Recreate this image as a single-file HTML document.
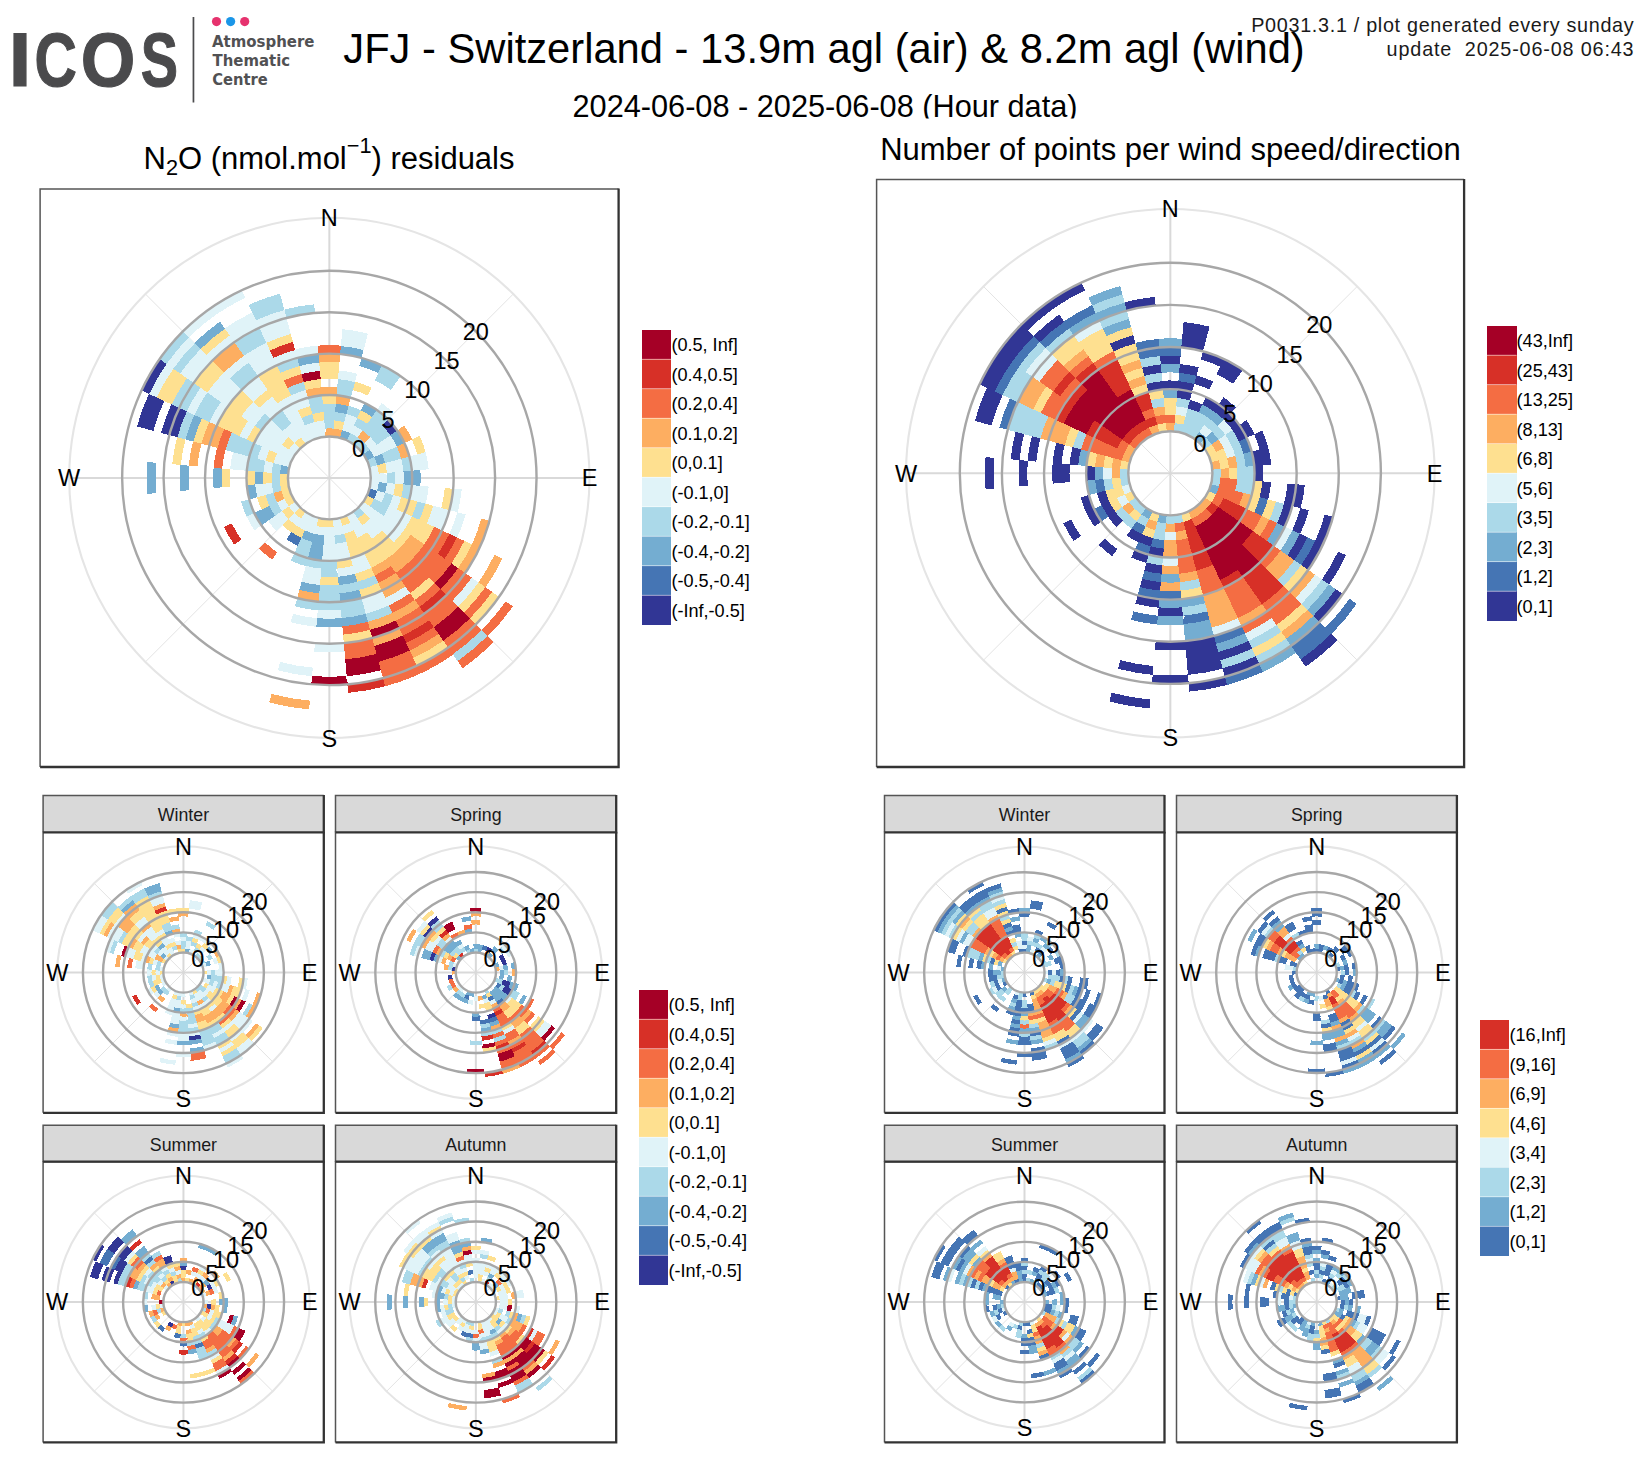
<!DOCTYPE html><html><head><meta charset="utf-8"><title>JFJ N2O residuals</title>
<style>html,body{margin:0;padding:0;background:#fff}svg{display:block}text{font-family:'Liberation Sans', Arial, Helvetica, sans-serif}.p0{stroke:#313695}.p1{stroke:#4575B4}.p2{stroke:#74ADD1}.p3{stroke:#ABD9E9}.p4{stroke:#E0F3F8}.p5{stroke:#FEE090}.p6{stroke:#FDAE61}.p7{stroke:#F46D43}.p8{stroke:#D73027}.p9{stroke:#A50026}.q0{stroke:#4575B4}.q1{stroke:#74ADD1}.q2{stroke:#ABD9E9}.q3{stroke:#E0F3F8}.q4{stroke:#FEE090}.q5{stroke:#FDAE61}.q6{stroke:#F46D43}.q7{stroke:#D73027}</style></head><body>
<svg width="1650" height="1470" viewBox="0 0 1650 1470">
<rect width="1650" height="1470" fill="#fff"/>
<text y="86" font-size="75.5" font-weight="bold" fill="#4a4a4c" stroke="#4a4a4c" stroke-width="1.1"><tspan x="8.6" textLength="23" lengthAdjust="spacingAndGlyphs">I</tspan><tspan x="34.4" textLength="42.4" lengthAdjust="spacingAndGlyphs">C</tspan><tspan x="80.8" textLength="54.6" lengthAdjust="spacingAndGlyphs">O</tspan><tspan x="140.7" textLength="37.3" lengthAdjust="spacingAndGlyphs">S</tspan></text>
<rect x="192.6" y="17" width="1.7" height="85.5" fill="#4b4b4d"/>
<circle cx="216.5" cy="21.6" r="4.6" fill="#e6326e"/><circle cx="230.6" cy="21.6" r="4.6" fill="#1a96e8"/><circle cx="244.7" cy="21.6" r="4.6" fill="#e6326e"/>
<g font-size="16.2" font-weight="bold" fill="#515153">
<text style="font-family:'DejaVu Sans','Liberation Sans',sans-serif" x="212" y="46.8" textLength="102.5" lengthAdjust="spacingAndGlyphs">Atmosphere</text><text style="font-family:'DejaVu Sans','Liberation Sans',sans-serif" x="212.6" y="65.8" textLength="77.5" lengthAdjust="spacingAndGlyphs">Thematic</text><text style="font-family:'DejaVu Sans','Liberation Sans',sans-serif" x="212.2" y="84.6" textLength="55.5" lengthAdjust="spacingAndGlyphs">Centre</text></g>
<text x="824" y="63" font-size="41.7" text-anchor="middle">JFJ - Switzerland - 13.9m agl (air) &amp; 8.2m agl (wind)</text>
<svg x="0" y="0" width="1650" height="118.5" overflow="hidden"><text x="825" y="116.5" font-size="30.7" text-anchor="middle">2024-06-08 - 2025-06-08 (Hour data)</text></svg>
<text x="1251.2" y="31.8" font-size="19.8" fill="#1a1a1a" textLength="382.5" lengthAdjust="spacing">P0031.3.1 / plot generated every sunday</text>
<text x="1386.6" y="55.9" font-size="19.8" fill="#1a1a1a" textLength="247" lengthAdjust="spacing" xml:space="preserve">update  2025-06-08 06:43</text>
<text x="329" y="168.5" font-size="31" text-anchor="middle">N<tspan font-size="21.7" dy="6.5">2</tspan><tspan dy="-6.5">O (nmol.mol</tspan><tspan font-size="21.7" dy="-16">−1</tspan><tspan dy="16">) residuals</tspan></text>
<text x="1170.5" y="160" font-size="31" text-anchor="middle">Number of points per wind speed/direction</text>
<g>
<g fill="none">
<path stroke="#e3e3e3" stroke-width="1.0" d="M145.4 294L513.3 661.9M145.4 661.9L513.3 294"/>
<path stroke="#d9d9d9" stroke-width="2.0" d="M69.2 477.95L589.5 477.95M329.35 217.8L329.35 738.1"/>
<circle cx="329.35" cy="477.95" r="260.15" stroke="#e5e5e5" stroke-width="2.1"/>
</g>
<g transform="translate(329.35 477.95) rotate(-95)" fill="none" stroke-width="8.69" shape-rendering="crispEdges">
<circle r="45.58" pathLength="36" class="p1" stroke-dasharray="0 11 1 24"/>
<circle r="45.58" pathLength="36" class="p2" stroke-dasharray="0 2 1 3 1 21 1 7"/>
<circle r="45.58" pathLength="36" class="p3" stroke-dasharray="0 3 3 1 1 6 1 21"/>
<circle r="45.58" pathLength="36" class="p4" stroke-dasharray="0 8 3 2 1 1 1 1 1 2 2 1 1 5 3 1 3 0"/>
<circle r="45.58" pathLength="36" class="p5" stroke-dasharray="0 12 1 3 1 1 2 2 1 1 4 4 1 3"/>
<circle r="45.58" pathLength="36" class="p6" stroke-dasharray="2 34"/>
<circle r="53.87" pathLength="36" class="p2" stroke-dasharray="0 7 1 2 1 25"/>
<circle r="53.87" pathLength="36" class="p3" stroke-dasharray="1 11 1 13 3 7"/>
<circle r="53.87" pathLength="36" class="p4" stroke-dasharray="0 2 2 1 2 2 1 1 1 1 1 1 8 1 1 4 2 1 4 0"/>
<circle r="53.87" pathLength="36" class="p5" stroke-dasharray="0 1 1 6 1 5 1 8 1 7 1 4"/>
<circle r="53.87" pathLength="36" class="p6" stroke-dasharray="0 4 1 20 1 10"/>
<circle r="62.16" pathLength="36" class="p2" stroke-dasharray="0 19 2 15"/>
<circle r="62.16" pathLength="36" class="p3" stroke-dasharray="2 1 3 1 1 1 1 1 2 4 1 6 2 8 1 1"/>
<circle r="62.16" pathLength="36" class="p4" stroke-dasharray="0 2 1 3 1 1 1 1 1 2 3 2 1 4 1 2 1 1 1 1 4 2"/>
<circle r="62.16" pathLength="36" class="p5" stroke-dasharray="0 16 1 4 2 4 1 1 1 5 1 0"/>
<circle r="70.45" pathLength="36" class="p1" stroke-dasharray="0 21 1 14"/>
<circle r="70.45" pathLength="36" class="p2" stroke-dasharray="0 1 1 17 1 4 1 2 1 8"/>
<circle r="70.45" pathLength="36" class="p3" stroke-dasharray="1 1 1 1 2 1 1 12 1 7 1 3 1 2 1 0"/>
<circle r="70.45" pathLength="36" class="p4" stroke-dasharray="0 6 1 1 2 1 4 2 2 4 1 2 1 2 3 1 1 2"/>
<circle r="70.45" pathLength="36" class="p5" stroke-dasharray="0 3 1 6 1 4 2 8 1 8 1 1"/>
<circle r="78.74" pathLength="36" class="p0" stroke-dasharray="0 5 1 30"/>
<circle r="78.74" pathLength="36" class="p2" stroke-dasharray="0 3 1 2 1 2 1 9 1 4 1 1 1 9"/>
<circle r="78.74" pathLength="36" class="p3" stroke-dasharray="0 4 1 3 1 1 1 9 1 7 2 2 1 2 1 0"/>
<circle r="78.74" pathLength="36" class="p4" stroke-dasharray="0 12 2 3 2 11 2 1 2 1"/>
<circle r="78.74" pathLength="36" class="p5" stroke-dasharray="1 10 1 2 3 10 1 8"/>
<circle r="78.74" pathLength="36" class="p6" stroke-dasharray="0 1 1 5 1 28"/>
<circle r="87.03" pathLength="36" class="p2" stroke-dasharray="0 9 1 26"/>
<circle r="87.03" pathLength="36" class="p3" stroke-dasharray="0 1 1 16 3 4 1 3 1 1 1 4"/>
<circle r="87.03" pathLength="36" class="p4" stroke-dasharray="0 4 1 3 1 1 1 1 2 2 1 7 1 3 1 3 3 1"/>
<circle r="87.03" pathLength="36" class="p5" stroke-dasharray="0 11 1 2 2 1 1 12 1 5"/>
<circle r="87.03" pathLength="36" class="p6" stroke-dasharray="1 5 1 28 1 0"/>
<circle r="95.31" pathLength="36" class="p3" stroke-dasharray="0 1 1 9 1 6 1 10 1 4 1 1"/>
<circle r="95.31" pathLength="36" class="p4" stroke-dasharray="0 8 1 1 1 5 2 1 1 8 1 1 3 3"/>
<circle r="95.31" pathLength="36" class="p5" stroke-dasharray="0 2 1 4 1 4 4 17 1 1 1 0"/>
<circle r="95.31" pathLength="36" class="p7" stroke-dasharray="0 22 1 13"/>
<circle r="103.6" pathLength="36" class="p2" stroke-dasharray="0 17 1 18"/>
<circle r="103.6" pathLength="36" class="p3" stroke-dasharray="0 29 1 6"/>
<circle r="103.6" pathLength="36" class="p4" stroke-dasharray="0 1 1 17 1 11 1 4"/>
<circle r="103.6" pathLength="36" class="p5" stroke-dasharray="1 10 2 3 1 1 1 8 1 2 1 1 2 2"/>
<circle r="103.6" pathLength="36" class="p6" stroke-dasharray="0 13 3 20"/>
<circle r="103.6" pathLength="36" class="p7" stroke-dasharray="0 34 1 1"/>
<circle r="103.6" pathLength="36" class="p9" stroke-dasharray="0 35 1 0"/>
<circle r="111.89" pathLength="36" class="p2" stroke-dasharray="0 19 1 7 1 8"/>
<circle r="111.89" pathLength="36" class="p3" stroke-dasharray="0 3 1 12 3 17"/>
<circle r="111.89" pathLength="36" class="p4" stroke-dasharray="0 11 1 20 1 2 1 0"/>
<circle r="111.89" pathLength="36" class="p5" stroke-dasharray="1 11 1 17 2 1 2 1"/>
<circle r="111.89" pathLength="36" class="p6" stroke-dasharray="0 13 2 21"/>
<circle r="111.89" pathLength="36" class="p7" stroke-dasharray="0 15 1 12 2 6"/>
<circle r="111.89" pathLength="36" class="p8" stroke-dasharray="0 24 1 11"/>
<circle r="120.18" pathLength="36" class="p2" stroke-dasharray="0 2 1 14 1 17 1 0"/>
<circle r="120.18" pathLength="36" class="p3" stroke-dasharray="0 3 1 14 1 15 1 1"/>
<circle r="120.18" pathLength="36" class="p4" stroke-dasharray="0 11 1 20 1 3"/>
<circle r="120.18" pathLength="36" class="p5" stroke-dasharray="0 10 1 5 1 13 2 1 1 2"/>
<circle r="120.18" pathLength="36" class="p6" stroke-dasharray="1 14 1 3 1 9 1 6"/>
<circle r="120.18" pathLength="36" class="p7" stroke-dasharray="0 12 3 21"/>
<circle r="128.47" pathLength="36" class="p2" stroke-dasharray="0 1 1 34"/>
<circle r="128.47" pathLength="36" class="p3" stroke-dasharray="0 17 3 12 1 3"/>
<circle r="128.47" pathLength="36" class="p4" stroke-dasharray="0 10 1 5 1 13 2 1 3 0"/>
<circle r="128.47" pathLength="36" class="p6" stroke-dasharray="0 15 1 13 1 6"/>
<circle r="128.47" pathLength="36" class="p7" stroke-dasharray="1 11 3 21"/>
<circle r="136.75" pathLength="36" class="p3" stroke-dasharray="0 17 1 12 1 1 1 3"/>
<circle r="136.75" pathLength="36" class="p4" stroke-dasharray="0 1 1 9 1 3 2 1 1 12 1 1 1 2"/>
<circle r="136.75" pathLength="36" class="p5" stroke-dasharray="0 29 1 6"/>
<circle r="136.75" pathLength="36" class="p6" stroke-dasharray="0 28 1 7"/>
<circle r="136.75" pathLength="36" class="p7" stroke-dasharray="0 13 2 21"/>
<circle r="136.75" pathLength="36" class="p8" stroke-dasharray="0 12 1 21 1 1"/>
<circle r="145.04" pathLength="36" class="p2" stroke-dasharray="0 17 2 8 1 1 1 6"/>
<circle r="145.04" pathLength="36" class="p3" stroke-dasharray="0 16 1 13 1 5"/>
<circle r="145.04" pathLength="36" class="p4" stroke-dasharray="0 1 1 17 1 11 3 2"/>
<circle r="145.04" pathLength="36" class="p5" stroke-dasharray="0 14 1 19 1 1"/>
<circle r="145.04" pathLength="36" class="p7" stroke-dasharray="0 12 2 1 1 20"/>
<circle r="153.33" pathLength="36" class="p3" stroke-dasharray="0 29 1 3 1 2"/>
<circle r="153.33" pathLength="36" class="p4" stroke-dasharray="0 30 1 3 1 1"/>
<circle r="153.33" pathLength="36" class="p5" stroke-dasharray="0 12 1 15 1 2 1 4"/>
<circle r="153.33" pathLength="36" class="p6" stroke-dasharray="0 15 2 15 1 3"/>
<circle r="153.33" pathLength="36" class="p7" stroke-dasharray="0 14 1 2 1 18"/>
<circle r="153.33" pathLength="36" class="p9" stroke-dasharray="0 13 1 22"/>
<circle r="161.62" pathLength="36" class="p0" stroke-dasharray="0 29 1 6"/>
<circle r="161.62" pathLength="36" class="p3" stroke-dasharray="0 30 1 2 1 2"/>
<circle r="161.62" pathLength="36" class="p4" stroke-dasharray="0 34 1 1"/>
<circle r="161.62" pathLength="36" class="p5" stroke-dasharray="0 17 1 13 1 4"/>
<circle r="161.62" pathLength="36" class="p6" stroke-dasharray="0 11 2 19 1 3"/>
<circle r="161.62" pathLength="36" class="p7" stroke-dasharray="0 13 1 1 1 20"/>
<circle r="161.62" pathLength="36" class="p8" stroke-dasharray="0 14 1 21"/>
<circle r="161.62" pathLength="36" class="p9" stroke-dasharray="0 16 1 19"/>
<circle r="169.91" pathLength="36" class="p0" stroke-dasharray="0 29 1 6"/>
<circle r="169.91" pathLength="36" class="p3" stroke-dasharray="0 30 1 4 1 0"/>
<circle r="169.91" pathLength="36" class="p4" stroke-dasharray="0 18 1 12 4 1"/>
<circle r="169.91" pathLength="36" class="p6" stroke-dasharray="0 16 1 19"/>
<circle r="169.91" pathLength="36" class="p7" stroke-dasharray="0 13 3 1 1 18"/>
<circle r="178.2" pathLength="36" class="p2" stroke-dasharray="0 27 1 8"/>
<circle r="178.2" pathLength="36" class="p3" stroke-dasharray="0 34 1 1"/>
<circle r="178.2" pathLength="36" class="p4" stroke-dasharray="0 13 1 17 1 1 1 2"/>
<circle r="178.2" pathLength="36" class="p5" stroke-dasharray="0 30 1 1 1 3"/>
<circle r="178.2" pathLength="36" class="p7" stroke-dasharray="0 14 1 2 1 18"/>
<circle r="178.2" pathLength="36" class="p8" stroke-dasharray="0 15 1 20"/>
<circle r="178.2" pathLength="36" class="p9" stroke-dasharray="0 16 1 19"/>
<circle r="186.48" pathLength="36" class="p0" stroke-dasharray="0 29 1 6"/>
<circle r="186.48" pathLength="36" class="p2" stroke-dasharray="0 32 1 3"/>
<circle r="186.48" pathLength="36" class="p3" stroke-dasharray="0 31 1 2 1 1"/>
<circle r="186.48" pathLength="36" class="p5" stroke-dasharray="0 13 1 16 1 5"/>
<circle r="186.48" pathLength="36" class="p6" stroke-dasharray="0 12 1 23"/>
<circle r="186.48" pathLength="36" class="p7" stroke-dasharray="0 15 1 20"/>
<circle r="186.48" pathLength="36" class="p9" stroke-dasharray="0 14 1 1 2 18"/>
<circle r="194.77" pathLength="36" class="p0" stroke-dasharray="0 29 1 6"/>
<circle r="194.77" pathLength="36" class="p4" stroke-dasharray="0 19 1 10 2 4"/>
<circle r="194.77" pathLength="36" class="p6" stroke-dasharray="0 15 1 20"/>
<circle r="194.77" pathLength="36" class="p7" stroke-dasharray="0 13 1 2 1 19"/>
<circle r="194.77" pathLength="36" class="p9" stroke-dasharray="0 14 1 2 1 18"/>
<circle r="203.06" pathLength="36" class="p0" stroke-dasharray="0 30 1 5"/>
<circle r="203.06" pathLength="36" class="p3" stroke-dasharray="0 31 1 4"/>
<circle r="203.06" pathLength="36" class="p4" stroke-dasharray="0 32 2 2"/>
<circle r="203.06" pathLength="36" class="p5" stroke-dasharray="0 13 1 1 1 20"/>
<circle r="203.06" pathLength="36" class="p7" stroke-dasharray="0 14 1 1 1 19"/>
<circle r="203.06" pathLength="36" class="p9" stroke-dasharray="0 18 1 17"/>
<circle r="211.35" pathLength="36" class="p7" stroke-dasharray="0 14 3 19"/>
<circle r="211.35" pathLength="36" class="p8" stroke-dasharray="0 17 1 18"/>
<circle r="219.64" pathLength="36" class="p3" stroke-dasharray="0 14 1 21"/>
<circle r="219.64" pathLength="36" class="p7" stroke-dasharray="0 13 1 22"/>
<circle r="227.92" pathLength="36" class="p6" stroke-dasharray="0 19 1 16"/>
<circle r="227.92" pathLength="36" class="p7" stroke-dasharray="0 14 1 21"/>
</g>
<g fill="none" stroke="#a7a7a7" stroke-width="2.4">
<circle cx="329.35" cy="477.95" r="41.44"/>
<circle cx="329.35" cy="477.95" r="82.88"/>
<circle cx="329.35" cy="477.95" r="124.32"/>
<circle cx="329.35" cy="477.95" r="165.76"/>
<circle cx="329.35" cy="477.95" r="207.2"/>
</g>
<g font-size="23.5" text-anchor="middle" fill="#000">
<text x="329.35" y="226.2">N</text>
<text x="589.5" y="486.35">E</text>
<text x="329.35" y="746.5">S</text>
<text x="69.2" y="486.35">W</text>
<text x="358.65" y="457.05">0</text>
<text x="387.96" y="427.74">5</text>
<text x="417.26" y="398.44">10</text>
<text x="446.56" y="369.14">15</text>
<text x="475.87" y="339.83">20</text>
</g>
</g>
<path fill="none" stroke="#555" stroke-width="1.5" d="M40.1 767L40.1 188.9L618.6 188.9"/>
<path fill="none" stroke="#333" stroke-width="2.3" stroke-linejoin="miter" d="M40.1 767L618.6 767L618.6 188.4"/>
<g>
<g fill="none">
<path stroke="#e3e3e3" stroke-width="1.0" d="M983.44 286.39L1357.26 660.21M983.44 660.21L1357.26 286.39"/>
<path stroke="#d9d9d9" stroke-width="2.0" d="M906.02 473.3L1434.68 473.3M1170.35 208.97L1170.35 737.63"/>
<circle cx="1170.35" cy="473.3" r="264.33" stroke="#e5e5e5" stroke-width="2.1"/>
</g>
<g transform="translate(1170.35 473.3) rotate(-95)" fill="none" stroke-width="8.82" shape-rendering="crispEdges">
<circle r="46.32" pathLength="36" class="p2" stroke-dasharray="0 4 1 6 1 7 1 1 1 14"/>
<circle r="46.32" pathLength="36" class="p3" stroke-dasharray="0 1 3 1 1 3 2 6 2 3 2 2 2 8"/>
<circle r="46.32" pathLength="36" class="p4" stroke-dasharray="0 25 1 10"/>
<circle r="46.32" pathLength="36" class="p5" stroke-dasharray="0 6 2 4 1 3 1 3 1 3 1 3 1 6 1 0"/>
<circle r="46.32" pathLength="36" class="p6" stroke-dasharray="1 7 1 4 3 13 2 3 1 1"/>
<circle r="46.32" pathLength="36" class="p7" stroke-dasharray="0 31 3 2"/>
<circle r="54.74" pathLength="36" class="p2" stroke-dasharray="0 5 1 30"/>
<circle r="54.74" pathLength="36" class="p3" stroke-dasharray="0 2 2 15 1 1 1 14"/>
<circle r="54.74" pathLength="36" class="p4" stroke-dasharray="0 4 1 19 1 11"/>
<circle r="54.74" pathLength="36" class="p5" stroke-dasharray="0 1 1 5 2 13 1 2 2 9"/>
<circle r="54.74" pathLength="36" class="p6" stroke-dasharray="0 6 1 2 1 8 1 1 1 2 1 3 2 7"/>
<circle r="54.74" pathLength="36" class="p7" stroke-dasharray="1 9 3 1 2 1 1 11 2 4 1 0"/>
<circle r="54.74" pathLength="36" class="p8" stroke-dasharray="0 13 1 2 1 14 4 1"/>
<circle r="63.16" pathLength="36" class="p1" stroke-dasharray="0 21 1 14"/>
<circle r="63.16" pathLength="36" class="p3" stroke-dasharray="0 2 4 13 1 2 2 2 1 9"/>
<circle r="63.16" pathLength="36" class="p4" stroke-dasharray="0 1 1 4 2 10 1 8 1 8"/>
<circle r="63.16" pathLength="36" class="p5" stroke-dasharray="1 8 1 10 1 3 2 2 1 7"/>
<circle r="63.16" pathLength="36" class="p6" stroke-dasharray="0 8 1 8 1 17 1 0"/>
<circle r="63.16" pathLength="36" class="p7" stroke-dasharray="0 10 2 17 1 4 1 1"/>
<circle r="63.16" pathLength="36" class="p8" stroke-dasharray="0 12 1 3 1 13 1 5"/>
<circle r="63.16" pathLength="36" class="p9" stroke-dasharray="0 13 3 15 3 2"/>
<circle r="71.58" pathLength="36" class="p0" stroke-dasharray="0 2 1 17 2 1 3 10"/>
<circle r="71.58" pathLength="36" class="p1" stroke-dasharray="0 19 1 6 1 9"/>
<circle r="71.58" pathLength="36" class="p2" stroke-dasharray="0 3 2 22 1 8"/>
<circle r="71.58" pathLength="36" class="p3" stroke-dasharray="0 1 1 4 5 24 1 0"/>
<circle r="71.58" pathLength="36" class="p4" stroke-dasharray="0 5 1 30"/>
<circle r="71.58" pathLength="36" class="p5" stroke-dasharray="1 35"/>
<circle r="71.58" pathLength="36" class="p6" stroke-dasharray="0 18 1 9 1 7"/>
<circle r="71.58" pathLength="36" class="p7" stroke-dasharray="0 11 1 5 1 11 1 6"/>
<circle r="71.58" pathLength="36" class="p8" stroke-dasharray="0 12 1 3 1 13 1 3 1 1"/>
<circle r="71.58" pathLength="36" class="p9" stroke-dasharray="0 13 3 15 3 2"/>
<circle r="80" pathLength="36" class="p0" stroke-dasharray="0 1 1 1 4 12 1 7 1 8"/>
<circle r="80" pathLength="36" class="p1" stroke-dasharray="0 7 1 12 1 3 1 11"/>
<circle r="80" pathLength="36" class="p2" stroke-dasharray="1 7 1 17 1 9"/>
<circle r="80" pathLength="36" class="p3" stroke-dasharray="0 9 2 25"/>
<circle r="80" pathLength="36" class="p5" stroke-dasharray="0 28 1 6 1 0"/>
<circle r="80" pathLength="36" class="p6" stroke-dasharray="0 11 1 6 1 17"/>
<circle r="80" pathLength="36" class="p7" stroke-dasharray="0 17 1 11 1 6"/>
<circle r="80" pathLength="36" class="p8" stroke-dasharray="0 12 1 3 1 13 1 3 1 1"/>
<circle r="80" pathLength="36" class="p9" stroke-dasharray="0 13 3 15 3 2"/>
<circle r="88.43" pathLength="36" class="p0" stroke-dasharray="2 2 1 1 1 1 2 10 1 3 2 9 1 0"/>
<circle r="88.43" pathLength="36" class="p2" stroke-dasharray="0 28 1 7"/>
<circle r="88.43" pathLength="36" class="p3" stroke-dasharray="0 19 1 16"/>
<circle r="88.43" pathLength="36" class="p4" stroke-dasharray="0 18 1 17"/>
<circle r="88.43" pathLength="36" class="p5" stroke-dasharray="0 10 2 22 1 1"/>
<circle r="88.43" pathLength="36" class="p7" stroke-dasharray="0 12 1 4 1 11 1 6"/>
<circle r="88.43" pathLength="36" class="p8" stroke-dasharray="0 16 1 13 1 5"/>
<circle r="88.43" pathLength="36" class="p9" stroke-dasharray="0 13 3 15 3 2"/>
<circle r="96.85" pathLength="36" class="p0" stroke-dasharray="0 2 1 4 2 1 1 8 1 2 1 5 1 7"/>
<circle r="96.85" pathLength="36" class="p1" stroke-dasharray="0 1 1 9 1 24"/>
<circle r="96.85" pathLength="36" class="p3" stroke-dasharray="0 29 1 5 1 0"/>
<circle r="96.85" pathLength="36" class="p6" stroke-dasharray="0 18 1 15 1 1"/>
<circle r="96.85" pathLength="36" class="p7" stroke-dasharray="0 12 1 4 1 18"/>
<circle r="96.85" pathLength="36" class="p8" stroke-dasharray="0 16 1 16 1 2"/>
<circle r="96.85" pathLength="36" class="p9" stroke-dasharray="0 13 3 14 3 3"/>
<circle r="105.27" pathLength="36" class="p0" stroke-dasharray="0 1 1 25 1 7 1 0"/>
<circle r="105.27" pathLength="36" class="p1" stroke-dasharray="0 19 1 16"/>
<circle r="105.27" pathLength="36" class="p2" stroke-dasharray="1 17 1 17"/>
<circle r="105.27" pathLength="36" class="p5" stroke-dasharray="0 11 1 17 1 4 1 1"/>
<circle r="105.27" pathLength="36" class="p6" stroke-dasharray="0 12 1 4 1 18"/>
<circle r="105.27" pathLength="36" class="p7" stroke-dasharray="0 16 1 19"/>
<circle r="105.27" pathLength="36" class="p8" stroke-dasharray="0 13 1 19 1 2"/>
<circle r="105.27" pathLength="36" class="p9" stroke-dasharray="0 14 2 14 3 3"/>
<circle r="113.69" pathLength="36" class="p0" stroke-dasharray="1 2 1 15 1 4 1 2 2 7"/>
<circle r="113.69" pathLength="36" class="p3" stroke-dasharray="0 11 1 5 1 17 1 0"/>
<circle r="113.69" pathLength="36" class="p6" stroke-dasharray="0 18 1 10 1 4 1 1"/>
<circle r="113.69" pathLength="36" class="p7" stroke-dasharray="0 12 1 3 1 19"/>
<circle r="113.69" pathLength="36" class="p8" stroke-dasharray="0 13 1 19 1 2"/>
<circle r="113.69" pathLength="36" class="p9" stroke-dasharray="0 14 2 14 3 3"/>
<circle r="122.11" pathLength="36" class="p0" stroke-dasharray="0 2 2 6 2 24"/>
<circle r="122.11" pathLength="36" class="p1" stroke-dasharray="1 17 2 15 1 0"/>
<circle r="122.11" pathLength="36" class="p2" stroke-dasharray="0 12 1 23"/>
<circle r="122.11" pathLength="36" class="p5" stroke-dasharray="0 17 1 16 1 1"/>
<circle r="122.11" pathLength="36" class="p6" stroke-dasharray="0 29 1 6"/>
<circle r="122.11" pathLength="36" class="p7" stroke-dasharray="0 16 1 19"/>
<circle r="122.11" pathLength="36" class="p8" stroke-dasharray="0 13 1 1 1 14 2 1 1 2"/>
<circle r="122.11" pathLength="36" class="p9" stroke-dasharray="0 14 1 17 1 3"/>
<circle r="130.53" pathLength="36" class="p0" stroke-dasharray="0 1 1 8 1 8 1 16"/>
<circle r="130.53" pathLength="36" class="p1" stroke-dasharray="0 35 1 0"/>
<circle r="130.53" pathLength="36" class="p2" stroke-dasharray="1 16 2 17"/>
<circle r="130.53" pathLength="36" class="p4" stroke-dasharray="0 12 1 23"/>
<circle r="130.53" pathLength="36" class="p5" stroke-dasharray="0 34 1 1"/>
<circle r="130.53" pathLength="36" class="p6" stroke-dasharray="0 16 1 12 1 6"/>
<circle r="130.53" pathLength="36" class="p7" stroke-dasharray="0 13 1 1 1 14 2 1 1 2"/>
<circle r="130.53" pathLength="36" class="p8" stroke-dasharray="0 14 1 17 1 3"/>
<circle r="138.95" pathLength="36" class="p0" stroke-dasharray="0 1 1 9 1 6 1 9 1 5 1 1"/>
<circle r="138.95" pathLength="36" class="p2" stroke-dasharray="0 12 1 23"/>
<circle r="138.95" pathLength="36" class="p3" stroke-dasharray="0 17 1 11 1 6"/>
<circle r="138.95" pathLength="36" class="p5" stroke-dasharray="0 33 1 2"/>
<circle r="138.95" pathLength="36" class="p6" stroke-dasharray="0 13 1 2 1 19"/>
<circle r="138.95" pathLength="36" class="p7" stroke-dasharray="0 15 1 14 1 1 1 3"/>
<circle r="138.95" pathLength="36" class="p8" stroke-dasharray="0 14 1 16 1 4"/>
<circle r="147.38" pathLength="36" class="p0" stroke-dasharray="0 1 1 10 1 14 1 8"/>
<circle r="147.38" pathLength="36" class="p1" stroke-dasharray="0 17 1 1 1 16"/>
<circle r="147.38" pathLength="36" class="p2" stroke-dasharray="0 18 1 17"/>
<circle r="147.38" pathLength="36" class="p3" stroke-dasharray="0 29 1 6"/>
<circle r="147.38" pathLength="36" class="p5" stroke-dasharray="0 30 1 2 2 1"/>
<circle r="147.38" pathLength="36" class="p6" stroke-dasharray="0 13 1 2 1 15 1 3"/>
<circle r="147.38" pathLength="36" class="p7" stroke-dasharray="0 15 1 15 1 4"/>
<circle r="147.38" pathLength="36" class="p8" stroke-dasharray="0 14 1 21"/>
<circle r="155.8" pathLength="36" class="p0" stroke-dasharray="0 28 1 7"/>
<circle r="155.8" pathLength="36" class="p1" stroke-dasharray="0 12 1 23"/>
<circle r="155.8" pathLength="36" class="p2" stroke-dasharray="0 17 1 16 1 1"/>
<circle r="155.8" pathLength="36" class="p3" stroke-dasharray="0 13 1 15 1 6"/>
<circle r="155.8" pathLength="36" class="p5" stroke-dasharray="0 32 2 2"/>
<circle r="155.8" pathLength="36" class="p6" stroke-dasharray="0 16 1 13 1 5"/>
<circle r="155.8" pathLength="36" class="p7" stroke-dasharray="0 15 1 15 1 4"/>
<circle r="155.8" pathLength="36" class="p8" stroke-dasharray="0 14 1 21"/>
<circle r="164.22" pathLength="36" class="p0" stroke-dasharray="0 11 2 23"/>
<circle r="164.22" pathLength="36" class="p2" stroke-dasharray="0 17 1 18"/>
<circle r="164.22" pathLength="36" class="p3" stroke-dasharray="0 29 1 4 1 1"/>
<circle r="164.22" pathLength="36" class="p4" stroke-dasharray="0 16 1 14 1 1 1 2"/>
<circle r="164.22" pathLength="36" class="p5" stroke-dasharray="0 13 1 18 1 3"/>
<circle r="164.22" pathLength="36" class="p6" stroke-dasharray="0 15 1 14 1 5"/>
<circle r="164.22" pathLength="36" class="p7" stroke-dasharray="0 14 1 21"/>
<circle r="172.64" pathLength="36" class="p0" stroke-dasharray="0 17 2 16 1 0"/>
<circle r="172.64" pathLength="36" class="p1" stroke-dasharray="0 16 1 12 1 6"/>
<circle r="172.64" pathLength="36" class="p2" stroke-dasharray="0 33 2 1"/>
<circle r="172.64" pathLength="36" class="p3" stroke-dasharray="0 30 1 1 1 3"/>
<circle r="172.64" pathLength="36" class="p4" stroke-dasharray="0 31 1 4"/>
<circle r="172.64" pathLength="36" class="p6" stroke-dasharray="0 13 1 22"/>
<circle r="172.64" pathLength="36" class="p7" stroke-dasharray="0 14 2 20"/>
<circle r="181.06" pathLength="36" class="p0" stroke-dasharray="0 17 1 9 1 8"/>
<circle r="181.06" pathLength="36" class="p1" stroke-dasharray="0 32 2 2"/>
<circle r="181.06" pathLength="36" class="p2" stroke-dasharray="0 16 1 19"/>
<circle r="181.06" pathLength="36" class="p3" stroke-dasharray="0 30 2 2 1 1"/>
<circle r="181.06" pathLength="36" class="p4" stroke-dasharray="0 13 1 1 1 20"/>
<circle r="181.06" pathLength="36" class="p7" stroke-dasharray="0 14 1 21"/>
<circle r="189.48" pathLength="36" class="p0" stroke-dasharray="0 12 1 3 2 11 1 2 1 3"/>
<circle r="189.48" pathLength="36" class="p1" stroke-dasharray="0 30 2 4"/>
<circle r="189.48" pathLength="36" class="p2" stroke-dasharray="0 34 1 1"/>
<circle r="189.48" pathLength="36" class="p3" stroke-dasharray="0 13 1 1 1 20"/>
<circle r="189.48" pathLength="36" class="p5" stroke-dasharray="0 14 1 21"/>
<circle r="197.91" pathLength="36" class="p0" stroke-dasharray="0 17 1 1 1 9 3 4"/>
<circle r="197.91" pathLength="36" class="p2" stroke-dasharray="0 13 1 22"/>
<circle r="197.91" pathLength="36" class="p3" stroke-dasharray="0 16 1 19"/>
<circle r="197.91" pathLength="36" class="p5" stroke-dasharray="0 15 1 20"/>
<circle r="197.91" pathLength="36" class="p6" stroke-dasharray="0 14 1 21"/>
<circle r="206.33" pathLength="36" class="p0" stroke-dasharray="0 13 1 2 1 1 1 11 4 2"/>
<circle r="206.33" pathLength="36" class="p2" stroke-dasharray="0 14 1 21"/>
<circle r="206.33" pathLength="36" class="p3" stroke-dasharray="0 15 1 20"/>
<circle r="214.75" pathLength="36" class="p0" stroke-dasharray="0 17 1 18"/>
<circle r="214.75" pathLength="36" class="p1" stroke-dasharray="0 14 1 1 1 19"/>
<circle r="214.75" pathLength="36" class="p2" stroke-dasharray="0 15 1 20"/>
<circle r="223.17" pathLength="36" class="p1" stroke-dasharray="0 13 2 21"/>
<circle r="231.59" pathLength="36" class="p0" stroke-dasharray="0 14 1 4 1 16"/>
</g>
<g fill="none" stroke="#a7a7a7" stroke-width="2.4">
<circle cx="1170.35" cy="473.3" r="42.11"/>
<circle cx="1170.35" cy="473.3" r="84.22"/>
<circle cx="1170.35" cy="473.3" r="126.32"/>
<circle cx="1170.35" cy="473.3" r="168.43"/>
<circle cx="1170.35" cy="473.3" r="210.54"/>
</g>
<g font-size="23.5" text-anchor="middle" fill="#000">
<text x="1170.35" y="217.37">N</text>
<text x="1434.68" y="481.7">E</text>
<text x="1170.35" y="746.03">S</text>
<text x="906.02" y="481.7">W</text>
<text x="1200.12" y="451.93">0</text>
<text x="1229.9" y="422.15">5</text>
<text x="1259.67" y="392.38">10</text>
<text x="1289.45" y="362.6">15</text>
<text x="1319.22" y="332.83">20</text>
</g>
</g>
<path fill="none" stroke="#555" stroke-width="1.5" d="M876.6 767L876.6 179.6L1464.1 179.6"/>
<path fill="none" stroke="#333" stroke-width="2.3" stroke-linejoin="miter" d="M876.6 767L1464.1 767L1464.1 179.1"/>
<rect x="641.8" y="329.75" width="29.5" height="29.5" fill="#A50026" shape-rendering="crispEdges"/>
<rect x="641.8" y="359.25" width="29.5" height="29.5" fill="#D73027" shape-rendering="crispEdges"/>
<rect x="641.8" y="388.75" width="29.5" height="29.5" fill="#F46D43" shape-rendering="crispEdges"/>
<rect x="641.8" y="418.25" width="29.5" height="29.5" fill="#FDAE61" shape-rendering="crispEdges"/>
<rect x="641.8" y="447.75" width="29.5" height="29.5" fill="#FEE090" shape-rendering="crispEdges"/>
<rect x="641.8" y="477.25" width="29.5" height="29.5" fill="#E0F3F8" shape-rendering="crispEdges"/>
<rect x="641.8" y="506.75" width="29.5" height="29.5" fill="#ABD9E9" shape-rendering="crispEdges"/>
<rect x="641.8" y="536.25" width="29.5" height="29.5" fill="#74ADD1" shape-rendering="crispEdges"/>
<rect x="641.8" y="565.75" width="29.5" height="29.5" fill="#4575B4" shape-rendering="crispEdges"/>
<rect x="641.8" y="595.25" width="29.5" height="29.5" fill="#313695" shape-rendering="crispEdges"/>
<rect x="641.8" y="358.9" width="29.5" height="0.7" fill="#fff" opacity="0.8"/>
<rect x="641.8" y="388.4" width="29.5" height="0.7" fill="#fff" opacity="0.8"/>
<rect x="641.8" y="417.9" width="29.5" height="0.7" fill="#fff" opacity="0.8"/>
<rect x="641.8" y="447.4" width="29.5" height="0.7" fill="#fff" opacity="0.8"/>
<rect x="641.8" y="476.9" width="29.5" height="0.7" fill="#fff" opacity="0.8"/>
<rect x="641.8" y="506.4" width="29.5" height="0.7" fill="#fff" opacity="0.8"/>
<rect x="641.8" y="535.9" width="29.5" height="0.7" fill="#fff" opacity="0.8"/>
<rect x="641.8" y="565.4" width="29.5" height="0.7" fill="#fff" opacity="0.8"/>
<rect x="641.8" y="594.9" width="29.5" height="0.7" fill="#fff" opacity="0.8"/>
<g font-size="18.1" fill="#000">
<text x="671.4" y="351.3">(0.5, Inf]</text>
<text x="671.4" y="380.8">(0.4,0.5]</text>
<text x="671.4" y="410.3">(0.2,0.4]</text>
<text x="671.4" y="439.8">(0.1,0.2]</text>
<text x="671.4" y="469.3">(0,0.1]</text>
<text x="671.4" y="498.8">(-0.1,0]</text>
<text x="671.4" y="528.3">(-0.2,-0.1]</text>
<text x="671.4" y="557.8">(-0.4,-0.2]</text>
<text x="671.4" y="587.3">(-0.5,-0.4]</text>
<text x="671.4" y="616.8">(-Inf,-0.5]</text>
</g>
<rect x="1487" y="325.7" width="29.5" height="29.5" fill="#A50026" shape-rendering="crispEdges"/>
<rect x="1487" y="355.2" width="29.5" height="29.5" fill="#D73027" shape-rendering="crispEdges"/>
<rect x="1487" y="384.7" width="29.5" height="29.5" fill="#F46D43" shape-rendering="crispEdges"/>
<rect x="1487" y="414.2" width="29.5" height="29.5" fill="#FDAE61" shape-rendering="crispEdges"/>
<rect x="1487" y="443.7" width="29.5" height="29.5" fill="#FEE090" shape-rendering="crispEdges"/>
<rect x="1487" y="473.2" width="29.5" height="29.5" fill="#E0F3F8" shape-rendering="crispEdges"/>
<rect x="1487" y="502.7" width="29.5" height="29.5" fill="#ABD9E9" shape-rendering="crispEdges"/>
<rect x="1487" y="532.2" width="29.5" height="29.5" fill="#74ADD1" shape-rendering="crispEdges"/>
<rect x="1487" y="561.7" width="29.5" height="29.5" fill="#4575B4" shape-rendering="crispEdges"/>
<rect x="1487" y="591.2" width="29.5" height="29.5" fill="#313695" shape-rendering="crispEdges"/>
<rect x="1487" y="354.85" width="29.5" height="0.7" fill="#fff" opacity="0.8"/>
<rect x="1487" y="384.35" width="29.5" height="0.7" fill="#fff" opacity="0.8"/>
<rect x="1487" y="413.85" width="29.5" height="0.7" fill="#fff" opacity="0.8"/>
<rect x="1487" y="443.35" width="29.5" height="0.7" fill="#fff" opacity="0.8"/>
<rect x="1487" y="472.85" width="29.5" height="0.7" fill="#fff" opacity="0.8"/>
<rect x="1487" y="502.35" width="29.5" height="0.7" fill="#fff" opacity="0.8"/>
<rect x="1487" y="531.85" width="29.5" height="0.7" fill="#fff" opacity="0.8"/>
<rect x="1487" y="561.35" width="29.5" height="0.7" fill="#fff" opacity="0.8"/>
<rect x="1487" y="590.85" width="29.5" height="0.7" fill="#fff" opacity="0.8"/>
<g font-size="18.1" fill="#000">
<text x="1516.6" y="347.25">(43,Inf]</text>
<text x="1516.6" y="376.75">(25,43]</text>
<text x="1516.6" y="406.25">(13,25]</text>
<text x="1516.6" y="435.75">(8,13]</text>
<text x="1516.6" y="465.25">(6,8]</text>
<text x="1516.6" y="494.75">(5,6]</text>
<text x="1516.6" y="524.25">(3,5]</text>
<text x="1516.6" y="553.75">(2,3]</text>
<text x="1516.6" y="583.25">(1,2]</text>
<text x="1516.6" y="612.75">(0,1]</text>
</g>
<rect x="638.9" y="989.75" width="29.5" height="29.5" fill="#A50026" shape-rendering="crispEdges"/>
<rect x="638.9" y="1019.25" width="29.5" height="29.5" fill="#D73027" shape-rendering="crispEdges"/>
<rect x="638.9" y="1048.75" width="29.5" height="29.5" fill="#F46D43" shape-rendering="crispEdges"/>
<rect x="638.9" y="1078.25" width="29.5" height="29.5" fill="#FDAE61" shape-rendering="crispEdges"/>
<rect x="638.9" y="1107.75" width="29.5" height="29.5" fill="#FEE090" shape-rendering="crispEdges"/>
<rect x="638.9" y="1137.25" width="29.5" height="29.5" fill="#E0F3F8" shape-rendering="crispEdges"/>
<rect x="638.9" y="1166.75" width="29.5" height="29.5" fill="#ABD9E9" shape-rendering="crispEdges"/>
<rect x="638.9" y="1196.25" width="29.5" height="29.5" fill="#74ADD1" shape-rendering="crispEdges"/>
<rect x="638.9" y="1225.75" width="29.5" height="29.5" fill="#4575B4" shape-rendering="crispEdges"/>
<rect x="638.9" y="1255.25" width="29.5" height="29.5" fill="#313695" shape-rendering="crispEdges"/>
<rect x="638.9" y="1018.9" width="29.5" height="0.7" fill="#fff" opacity="0.8"/>
<rect x="638.9" y="1048.4" width="29.5" height="0.7" fill="#fff" opacity="0.8"/>
<rect x="638.9" y="1077.9" width="29.5" height="0.7" fill="#fff" opacity="0.8"/>
<rect x="638.9" y="1107.4" width="29.5" height="0.7" fill="#fff" opacity="0.8"/>
<rect x="638.9" y="1136.9" width="29.5" height="0.7" fill="#fff" opacity="0.8"/>
<rect x="638.9" y="1166.4" width="29.5" height="0.7" fill="#fff" opacity="0.8"/>
<rect x="638.9" y="1195.9" width="29.5" height="0.7" fill="#fff" opacity="0.8"/>
<rect x="638.9" y="1225.4" width="29.5" height="0.7" fill="#fff" opacity="0.8"/>
<rect x="638.9" y="1254.9" width="29.5" height="0.7" fill="#fff" opacity="0.8"/>
<g font-size="18.1" fill="#000">
<text x="668.5" y="1011.3">(0.5, Inf]</text>
<text x="668.5" y="1040.8">(0.4,0.5]</text>
<text x="668.5" y="1070.3">(0.2,0.4]</text>
<text x="668.5" y="1099.8">(0.1,0.2]</text>
<text x="668.5" y="1129.3">(0,0.1]</text>
<text x="668.5" y="1158.8">(-0.1,0]</text>
<text x="668.5" y="1188.3">(-0.2,-0.1]</text>
<text x="668.5" y="1217.8">(-0.4,-0.2]</text>
<text x="668.5" y="1247.3">(-0.5,-0.4]</text>
<text x="668.5" y="1276.8">(-Inf,-0.5]</text>
</g>
<rect x="1479.9" y="1019.8" width="29.5" height="29.5" fill="#D73027" shape-rendering="crispEdges"/>
<rect x="1479.9" y="1049.3" width="29.5" height="29.5" fill="#F46D43" shape-rendering="crispEdges"/>
<rect x="1479.9" y="1078.8" width="29.5" height="29.5" fill="#FDAE61" shape-rendering="crispEdges"/>
<rect x="1479.9" y="1108.3" width="29.5" height="29.5" fill="#FEE090" shape-rendering="crispEdges"/>
<rect x="1479.9" y="1137.8" width="29.5" height="29.5" fill="#E0F3F8" shape-rendering="crispEdges"/>
<rect x="1479.9" y="1167.3" width="29.5" height="29.5" fill="#ABD9E9" shape-rendering="crispEdges"/>
<rect x="1479.9" y="1196.8" width="29.5" height="29.5" fill="#74ADD1" shape-rendering="crispEdges"/>
<rect x="1479.9" y="1226.3" width="29.5" height="29.5" fill="#4575B4" shape-rendering="crispEdges"/>
<rect x="1479.9" y="1048.95" width="29.5" height="0.7" fill="#fff" opacity="0.8"/>
<rect x="1479.9" y="1078.45" width="29.5" height="0.7" fill="#fff" opacity="0.8"/>
<rect x="1479.9" y="1107.95" width="29.5" height="0.7" fill="#fff" opacity="0.8"/>
<rect x="1479.9" y="1137.45" width="29.5" height="0.7" fill="#fff" opacity="0.8"/>
<rect x="1479.9" y="1166.95" width="29.5" height="0.7" fill="#fff" opacity="0.8"/>
<rect x="1479.9" y="1196.45" width="29.5" height="0.7" fill="#fff" opacity="0.8"/>
<rect x="1479.9" y="1225.95" width="29.5" height="0.7" fill="#fff" opacity="0.8"/>
<g font-size="18.1" fill="#000">
<text x="1509.5" y="1041.35">(16,Inf]</text>
<text x="1509.5" y="1070.85">(9,16]</text>
<text x="1509.5" y="1100.35">(6,9]</text>
<text x="1509.5" y="1129.85">(4,6]</text>
<text x="1509.5" y="1159.35">(3,4]</text>
<text x="1509.5" y="1188.85">(2,3]</text>
<text x="1509.5" y="1218.35">(1,2]</text>
<text x="1509.5" y="1247.85">(0,1]</text>
</g>
<g>
<g fill="none">
<path stroke="#e3e3e3" stroke-width="1.0" d="M94.2 883.3L272.7 1061.8M94.2 1061.8L272.7 883.3"/>
<path stroke="#d9d9d9" stroke-width="2.0" d="M57.23 972.55L309.68 972.55M183.45 846.32L183.45 1098.77"/>
<circle cx="183.45" cy="972.55" r="126.23" stroke="#e5e5e5" stroke-width="2.1"/>
</g>
<g transform="translate(183.45 972.55) rotate(-95)" fill="none" stroke-width="4.42" shape-rendering="crispEdges">
<circle r="22.12" pathLength="36" class="p2" stroke-dasharray="0 1 1 34"/>
<circle r="22.12" pathLength="36" class="p3" stroke-dasharray="0 4 3 6 2 21"/>
<circle r="22.12" pathLength="36" class="p4" stroke-dasharray="0 2 1 4 1 3 1 4 1 1 3 1 1 1 3 1 1 2 1 1 1 2"/>
<circle r="22.12" pathLength="36" class="p5" stroke-dasharray="1 8 1 5 1 11 1 2 1 1 1 2 1 0"/>
<circle r="26.14" pathLength="36" class="p2" stroke-dasharray="0 7 1 2 1 20 1 4"/>
<circle r="26.14" pathLength="36" class="p3" stroke-dasharray="1 2 1 9 1 2 1 2 1 2 2 4 2 4 1 1"/>
<circle r="26.14" pathLength="36" class="p4" stroke-dasharray="0 1 1 2 1 4 1 1 1 2 2 11 1 4 2 2"/>
<circle r="26.14" pathLength="36" class="p5" stroke-dasharray="0 12 1 7 1 4 2 9"/>
<circle r="26.14" pathLength="36" class="p6" stroke-dasharray="0 30 1 4 1 0"/>
<circle r="30.16" pathLength="36" class="p2" stroke-dasharray="0 23 2 11"/>
<circle r="30.16" pathLength="36" class="p3" stroke-dasharray="1 1 1 3 1 2 3 24"/>
<circle r="30.16" pathLength="36" class="p4" stroke-dasharray="0 1 1 2 1 7 5 2 2 5 1 2 1 1 2 2 1 0"/>
<circle r="30.16" pathLength="36" class="p5" stroke-dasharray="0 3 1 14 1 6 1 1 1 5 2 1"/>
<circle r="30.16" pathLength="36" class="p6" stroke-dasharray="0 30 1 5"/>
<circle r="34.18" pathLength="36" class="p2" stroke-dasharray="0 5 1 26 1 3"/>
<circle r="34.18" pathLength="36" class="p3" stroke-dasharray="0 1 1 8 1 3 1 1 1 8 2 1 1 2 1 4"/>
<circle r="34.18" pathLength="36" class="p4" stroke-dasharray="1 6 1 1 1 1 2 5 3 2 1 3 1 2 1 2 2 1"/>
<circle r="34.18" pathLength="36" class="p5" stroke-dasharray="0 2 1 1 1 8 1 3 1 6 1 4 1 6"/>
<circle r="34.18" pathLength="36" class="p6" stroke-dasharray="0 15 1 6 1 13"/>
<circle r="38.2" pathLength="36" class="p2" stroke-dasharray="0 19 1 16"/>
<circle r="38.2" pathLength="36" class="p3" stroke-dasharray="1 9 2 5 2 17"/>
<circle r="38.2" pathLength="36" class="p4" stroke-dasharray="0 2 3 3 2 4 3 3 1 3 1 5 2 1 1 1 1 0"/>
<circle r="38.2" pathLength="36" class="p5" stroke-dasharray="0 7 1 4 2 18 1 3"/>
<circle r="38.2" pathLength="36" class="p6" stroke-dasharray="0 6 1 22 1 6"/>
<circle r="42.23" pathLength="36" class="p2" stroke-dasharray="0 34 1 1"/>
<circle r="42.23" pathLength="36" class="p3" stroke-dasharray="0 2 1 14 1 18"/>
<circle r="42.23" pathLength="36" class="p4" stroke-dasharray="0 11 1 7 2 7 3 5"/>
<circle r="42.23" pathLength="36" class="p5" stroke-dasharray="0 10 1 1 5 14 3 2"/>
<circle r="42.23" pathLength="36" class="p6" stroke-dasharray="0 18 1 16 1 0"/>
<circle r="46.25" pathLength="36" class="p3" stroke-dasharray="0 17 1 16 2 0"/>
<circle r="46.25" pathLength="36" class="p4" stroke-dasharray="0 10 2 2 1 3 2 8 1 1 1 1 2 2"/>
<circle r="46.25" pathLength="36" class="p5" stroke-dasharray="0 13 1 1 1 13 1 1 1 4"/>
<circle r="46.25" pathLength="36" class="p6" stroke-dasharray="0 12 1 3 1 19"/>
<circle r="46.25" pathLength="36" class="p7" stroke-dasharray="0 22 1 13"/>
<circle r="50.27" pathLength="36" class="p3" stroke-dasharray="0 17 2 15 1 1"/>
<circle r="50.27" pathLength="36" class="p4" stroke-dasharray="0 19 1 12 1 3"/>
<circle r="50.27" pathLength="36" class="p5" stroke-dasharray="0 29 2 2 1 2"/>
<circle r="50.27" pathLength="36" class="p6" stroke-dasharray="0 11 6 14 1 4"/>
<circle r="54.29" pathLength="36" class="p2" stroke-dasharray="0 19 1 16"/>
<circle r="54.29" pathLength="36" class="p3" stroke-dasharray="0 3 1 14 1 17"/>
<circle r="54.29" pathLength="36" class="p4" stroke-dasharray="0 17 1 11 1 1 2 3"/>
<circle r="54.29" pathLength="36" class="p5" stroke-dasharray="0 11 2 3 1 13 1 2 2 1"/>
<circle r="54.29" pathLength="36" class="p6" stroke-dasharray="0 13 3 19 1 0"/>
<circle r="54.29" pathLength="36" class="p7" stroke-dasharray="0 28 1 7"/>
<circle r="54.29" pathLength="36" class="p8" stroke-dasharray="0 24 1 11"/>
<circle r="58.31" pathLength="36" class="p3" stroke-dasharray="0 17 2 17"/>
<circle r="58.31" pathLength="36" class="p4" stroke-dasharray="0 29 1 6"/>
<circle r="58.31" pathLength="36" class="p5" stroke-dasharray="0 10 2 2 3 14 1 1 2 1"/>
<circle r="58.31" pathLength="36" class="p6" stroke-dasharray="1 18 1 10 1 1 1 3"/>
<circle r="58.31" pathLength="36" class="p7" stroke-dasharray="0 13 1 22"/>
<circle r="58.31" pathLength="36" class="p9" stroke-dasharray="0 12 1 23"/>
<circle r="62.33" pathLength="36" class="p3" stroke-dasharray="0 15 2 19"/>
<circle r="62.33" pathLength="36" class="p4" stroke-dasharray="0 10 1 6 3 12 1 3"/>
<circle r="62.33" pathLength="36" class="p5" stroke-dasharray="1 29 2 1 3 0"/>
<circle r="62.33" pathLength="36" class="p6" stroke-dasharray="0 12 1 23"/>
<circle r="62.33" pathLength="36" class="p7" stroke-dasharray="0 13 2 21"/>
<circle r="62.33" pathLength="36" class="p9" stroke-dasharray="0 29 1 6"/>
<circle r="66.35" pathLength="36" class="p0" stroke-dasharray="0 17 1 18"/>
<circle r="66.35" pathLength="36" class="p3" stroke-dasharray="0 15 2 19"/>
<circle r="66.35" pathLength="36" class="p4" stroke-dasharray="0 1 1 9 1 6 1 13 1 3"/>
<circle r="66.35" pathLength="36" class="p5" stroke-dasharray="0 14 1 15 2 1 1 2"/>
<circle r="66.35" pathLength="36" class="p6" stroke-dasharray="0 13 1 14 1 7"/>
<circle r="66.35" pathLength="36" class="p8" stroke-dasharray="0 34 1 1"/>
<circle r="66.35" pathLength="36" class="p9" stroke-dasharray="0 12 1 23"/>
<circle r="70.38" pathLength="36" class="p2" stroke-dasharray="0 17 2 17"/>
<circle r="70.38" pathLength="36" class="p3" stroke-dasharray="0 16 1 13 1 5"/>
<circle r="70.38" pathLength="36" class="p4" stroke-dasharray="0 1 1 11 3 3 1 16"/>
<circle r="70.38" pathLength="36" class="p5" stroke-dasharray="0 32 2 2"/>
<circle r="70.38" pathLength="36" class="p6" stroke-dasharray="0 31 1 2 1 1"/>
<circle r="74.4" pathLength="36" class="p3" stroke-dasharray="0 12 1 2 2 12 1 6"/>
<circle r="74.4" pathLength="36" class="p4" stroke-dasharray="0 13 1 16 1 3 1 1"/>
<circle r="74.4" pathLength="36" class="p5" stroke-dasharray="0 14 1 17 2 2"/>
<circle r="74.4" pathLength="36" class="p6" stroke-dasharray="0 31 1 4"/>
<circle r="78.42" pathLength="36" class="p2" stroke-dasharray="0 17 1 18"/>
<circle r="78.42" pathLength="36" class="p3" stroke-dasharray="0 15 1 20"/>
<circle r="78.42" pathLength="36" class="p4" stroke-dasharray="0 13 1 2 1 12 2 3 1 1"/>
<circle r="78.42" pathLength="36" class="p5" stroke-dasharray="0 14 1 18 1 2"/>
<circle r="78.42" pathLength="36" class="p6" stroke-dasharray="0 11 2 18 2 3"/>
<circle r="82.44" pathLength="36" class="p3" stroke-dasharray="0 34 1 1"/>
<circle r="82.44" pathLength="36" class="p4" stroke-dasharray="0 13 2 3 1 11 2 4"/>
<circle r="82.44" pathLength="36" class="p5" stroke-dasharray="0 15 1 17 1 2"/>
<circle r="82.44" pathLength="36" class="p6" stroke-dasharray="0 32 1 3"/>
<circle r="82.44" pathLength="36" class="p7" stroke-dasharray="0 17 1 18"/>
<circle r="86.46" pathLength="36" class="p2" stroke-dasharray="0 32 1 1 1 1"/>
<circle r="86.46" pathLength="36" class="p3" stroke-dasharray="0 33 1 2"/>
<circle r="86.46" pathLength="36" class="p4" stroke-dasharray="0 15 1 20"/>
<circle r="86.46" pathLength="36" class="p5" stroke-dasharray="0 14 1 16 1 4"/>
<circle r="86.46" pathLength="36" class="p6" stroke-dasharray="0 30 1 5"/>
<circle r="86.46" pathLength="36" class="p7" stroke-dasharray="0 17 1 18"/>
<circle r="90.48" pathLength="36" class="p2" stroke-dasharray="0 34 1 1"/>
<circle r="90.48" pathLength="36" class="p3" stroke-dasharray="0 32 2 2"/>
<circle r="90.48" pathLength="36" class="p4" stroke-dasharray="0 19 1 16"/>
<circle r="90.48" pathLength="36" class="p5" stroke-dasharray="0 14 2 14 2 4"/>
<circle r="90.48" pathLength="36" class="p6" stroke-dasharray="0 13 1 22"/>
<circle r="94.51" pathLength="36" class="p3" stroke-dasharray="0 15 1 15 1 4"/>
<circle r="94.51" pathLength="36" class="p4" stroke-dasharray="0 14 1 15 1 5"/>
<circle r="94.51" pathLength="36" class="p5" stroke-dasharray="0 13 1 22"/>
<circle r="98.53" pathLength="36" class="p3" stroke-dasharray="0 15 1 15 1 4"/>
<circle r="98.53" pathLength="36" class="p4" stroke-dasharray="0 14 1 15 1 2 1 2"/>
<circle r="102.55" pathLength="36" class="p4" stroke-dasharray="0 15 1 20"/>
</g>
<g fill="none" stroke="#a7a7a7" stroke-width="2.4">
<circle cx="183.45" cy="972.55" r="20.11"/>
<circle cx="183.45" cy="972.55" r="40.22"/>
<circle cx="183.45" cy="972.55" r="60.32"/>
<circle cx="183.45" cy="972.55" r="80.43"/>
<circle cx="183.45" cy="972.55" r="100.54"/>
</g>
<g font-size="23.5" text-anchor="middle" fill="#000">
<text x="183.45" y="854.72">N</text>
<text x="309.68" y="980.95">E</text>
<text x="183.45" y="1107.17">S</text>
<text x="57.23" y="980.95">W</text>
<text x="197.67" y="966.73">0</text>
<text x="211.89" y="952.51">5</text>
<text x="226.1" y="938.3">10</text>
<text x="240.32" y="924.08">15</text>
<text x="254.54" y="909.86">20</text>
</g>
</g>
<path fill="none" stroke="#555" stroke-width="1.5" d="M43.1 1112.8L43.1 832.3L323.8 832.3"/>
<path fill="none" stroke="#333" stroke-width="2.3" stroke-linejoin="miter" d="M43.1 1112.8L323.8 1112.8L323.8 831.8"/>
<rect x="43.1" y="795.6" width="280.7" height="36.7" fill="#d9d9d9"/>
<path fill="none" stroke="#555" stroke-width="1.5" d="M43.1 832.3L43.1 795.6L323.8 795.6"/>
<path fill="none" stroke="#333" stroke-width="2.3" stroke-linejoin="miter" d="M43.1 832.3L323.8 832.3L323.8 795.1"/>
<text x="183.45" y="821.15" font-size="17.8" fill="#1a1a1a" text-anchor="middle">Winter</text>
<g>
<g fill="none">
<path stroke="#e3e3e3" stroke-width="1.0" d="M386.6 883.3L565.1 1061.8M386.6 1061.8L565.1 883.3"/>
<path stroke="#d9d9d9" stroke-width="2.0" d="M349.62 972.55L602.08 972.55M475.85 846.32L475.85 1098.77"/>
<circle cx="475.85" cy="972.55" r="126.23" stroke="#e5e5e5" stroke-width="2.1"/>
</g>
<g transform="translate(475.85 972.55) rotate(-95)" fill="none" stroke-width="4.42" shape-rendering="crispEdges">
<circle r="22.12" pathLength="36" class="p0" stroke-dasharray="0 28 1 7"/>
<circle r="22.12" pathLength="36" class="p2" stroke-dasharray="0 1 1 2 1 2 1 11 2 10 1 3 1 0"/>
<circle r="22.12" pathLength="36" class="p3" stroke-dasharray="1 10 1 3 1 18 1 1"/>
<circle r="22.12" pathLength="36" class="p4" stroke-dasharray="0 22 2 5 1 6"/>
<circle r="22.12" pathLength="36" class="p6" stroke-dasharray="0 3 1 4 1 18 1 8"/>
<circle r="22.12" pathLength="36" class="p8" stroke-dasharray="0 32 1 3"/>
<circle r="26.14" pathLength="36" class="p0" stroke-dasharray="0 3 1 22 1 9"/>
<circle r="26.14" pathLength="36" class="p1" stroke-dasharray="0 2 1 9 1 7 1 15"/>
<circle r="26.14" pathLength="36" class="p2" stroke-dasharray="2 7 2 2 2 1 1 17 1 1"/>
<circle r="26.14" pathLength="36" class="p3" stroke-dasharray="0 11 1 9 2 5 2 2 2 2"/>
<circle r="26.14" pathLength="36" class="p4" stroke-dasharray="0 8 1 9 1 17"/>
<circle r="26.14" pathLength="36" class="p5" stroke-dasharray="0 15 1 15 1 4"/>
<circle r="26.14" pathLength="36" class="p6" stroke-dasharray="0 17 1 5 1 12"/>
<circle r="26.14" pathLength="36" class="p7" stroke-dasharray="0 24 2 4 1 5"/>
<circle r="30.16" pathLength="36" class="p0" stroke-dasharray="0 6 2 3 1 24"/>
<circle r="30.16" pathLength="36" class="p1" stroke-dasharray="0 15 1 20"/>
<circle r="30.16" pathLength="36" class="p2" stroke-dasharray="0 4 1 3 1 4 2 5 3 13"/>
<circle r="30.16" pathLength="36" class="p3" stroke-dasharray="0 9 1 2 1 11 1 6 2 3"/>
<circle r="30.16" pathLength="36" class="p4" stroke-dasharray="0 16 1 2 1 13 1 2"/>
<circle r="30.16" pathLength="36" class="p6" stroke-dasharray="0 28 1 1 1 5"/>
<circle r="34.18" pathLength="36" class="p0" stroke-dasharray="0 11 2 23"/>
<circle r="34.18" pathLength="36" class="p2" stroke-dasharray="0 10 1 2 2 16 3 2"/>
<circle r="34.18" pathLength="36" class="p3" stroke-dasharray="0 5 1 30"/>
<circle r="34.18" pathLength="36" class="p4" stroke-dasharray="0 15 1 20"/>
<circle r="34.18" pathLength="36" class="p5" stroke-dasharray="0 16 2 12 1 5"/>
<circle r="34.18" pathLength="36" class="p6" stroke-dasharray="0 29 1 6"/>
<circle r="38.2" pathLength="36" class="p0" stroke-dasharray="0 12 1 23"/>
<circle r="38.2" pathLength="36" class="p1" stroke-dasharray="0 14 1 21"/>
<circle r="38.2" pathLength="36" class="p2" stroke-dasharray="0 8 1 2 1 1 1 17 2 3"/>
<circle r="38.2" pathLength="36" class="p3" stroke-dasharray="0 30 1 5"/>
<circle r="38.2" pathLength="36" class="p4" stroke-dasharray="0 5 2 22 1 6"/>
<circle r="38.2" pathLength="36" class="p5" stroke-dasharray="0 16 1 19"/>
<circle r="38.2" pathLength="36" class="p6" stroke-dasharray="0 9 1 5 1 20"/>
<circle r="42.23" pathLength="36" class="p2" stroke-dasharray="0 11 1 6 1 10 1 5 1 0"/>
<circle r="42.23" pathLength="36" class="p3" stroke-dasharray="0 12 1 18 1 4"/>
<circle r="42.23" pathLength="36" class="p4" stroke-dasharray="0 13 1 18 1 3"/>
<circle r="42.23" pathLength="36" class="p6" stroke-dasharray="0 14 1 15 1 3 1 1"/>
<circle r="42.23" pathLength="36" class="p7" stroke-dasharray="0 15 1 17 1 2"/>
<circle r="46.25" pathLength="36" class="p0" stroke-dasharray="0 16 1 12 1 6"/>
<circle r="46.25" pathLength="36" class="p1" stroke-dasharray="0 18 1 17"/>
<circle r="46.25" pathLength="36" class="p3" stroke-dasharray="0 12 1 18 1 4"/>
<circle r="46.25" pathLength="36" class="p5" stroke-dasharray="0 13 1 22"/>
<circle r="46.25" pathLength="36" class="p6" stroke-dasharray="0 14 1 17 1 3"/>
<circle r="46.25" pathLength="36" class="p7" stroke-dasharray="0 30 1 4 1 0"/>
<circle r="46.25" pathLength="36" class="p8" stroke-dasharray="0 15 1 20"/>
<circle r="50.27" pathLength="36" class="p1" stroke-dasharray="0 16 2 18"/>
<circle r="50.27" pathLength="36" class="p2" stroke-dasharray="0 29 1 6"/>
<circle r="50.27" pathLength="36" class="p4" stroke-dasharray="0 30 2 4"/>
<circle r="50.27" pathLength="36" class="p5" stroke-dasharray="0 13 2 21"/>
<circle r="50.27" pathLength="36" class="p6" stroke-dasharray="1 35"/>
<circle r="50.27" pathLength="36" class="p7" stroke-dasharray="0 15 1 20"/>
<circle r="50.27" pathLength="36" class="p8" stroke-dasharray="0 32 1 3"/>
<circle r="50.27" pathLength="36" class="p9" stroke-dasharray="0 33 1 2"/>
<circle r="54.29" pathLength="36" class="p2" stroke-dasharray="0 12 1 3 1 12 1 5 1 0"/>
<circle r="54.29" pathLength="36" class="p3" stroke-dasharray="0 17 1 18"/>
<circle r="54.29" pathLength="36" class="p4" stroke-dasharray="0 30 1 5"/>
<circle r="54.29" pathLength="36" class="p5" stroke-dasharray="0 13 2 16 2 3"/>
<circle r="54.29" pathLength="36" class="p7" stroke-dasharray="0 15 1 20"/>
<circle r="54.29" pathLength="36" class="p9" stroke-dasharray="0 33 1 2"/>
<circle r="58.31" pathLength="36" class="p2" stroke-dasharray="0 17 1 18"/>
<circle r="58.31" pathLength="36" class="p3" stroke-dasharray="0 32 1 3"/>
<circle r="58.31" pathLength="36" class="p6" stroke-dasharray="1 15 1 13 2 4"/>
<circle r="58.31" pathLength="36" class="p7" stroke-dasharray="0 13 3 20"/>
<circle r="62.33" pathLength="36" class="p0" stroke-dasharray="0 31 1 4"/>
<circle r="62.33" pathLength="36" class="p3" stroke-dasharray="0 16 2 12 1 1 1 3"/>
<circle r="62.33" pathLength="36" class="p4" stroke-dasharray="0 29 1 6"/>
<circle r="62.33" pathLength="36" class="p5" stroke-dasharray="0 15 1 20"/>
<circle r="62.33" pathLength="36" class="p6" stroke-dasharray="0 14 1 21"/>
<circle r="62.33" pathLength="36" class="p7" stroke-dasharray="0 12 2 22"/>
<circle r="62.33" pathLength="36" class="p9" stroke-dasharray="1 35"/>
<circle r="66.35" pathLength="36" class="p0" stroke-dasharray="0 32 1 3"/>
<circle r="66.35" pathLength="36" class="p3" stroke-dasharray="0 29 2 5"/>
<circle r="66.35" pathLength="36" class="p4" stroke-dasharray="0 15 1 20"/>
<circle r="66.35" pathLength="36" class="p5" stroke-dasharray="0 31 1 4"/>
<circle r="66.35" pathLength="36" class="p6" stroke-dasharray="0 13 2 21"/>
<circle r="66.35" pathLength="36" class="p7" stroke-dasharray="0 16 1 19"/>
<circle r="66.35" pathLength="36" class="p8" stroke-dasharray="0 17 1 18"/>
<circle r="70.38" pathLength="36" class="p3" stroke-dasharray="0 16 1 1 1 17"/>
<circle r="70.38" pathLength="36" class="p4" stroke-dasharray="0 31 1 4"/>
<circle r="70.38" pathLength="36" class="p5" stroke-dasharray="0 14 1 21"/>
<circle r="70.38" pathLength="36" class="p7" stroke-dasharray="0 13 1 1 1 20"/>
<circle r="74.4" pathLength="36" class="p5" stroke-dasharray="0 14 1 17 1 3"/>
<circle r="74.4" pathLength="36" class="p6" stroke-dasharray="0 30 1 5"/>
<circle r="74.4" pathLength="36" class="p7" stroke-dasharray="0 15 2 19"/>
<circle r="74.4" pathLength="36" class="p9" stroke-dasharray="0 17 1 18"/>
<circle r="78.42" pathLength="36" class="p5" stroke-dasharray="0 13 1 3 1 18"/>
<circle r="78.42" pathLength="36" class="p6" stroke-dasharray="0 15 1 20"/>
<circle r="78.42" pathLength="36" class="p7" stroke-dasharray="0 14 1 21"/>
<circle r="78.42" pathLength="36" class="p8" stroke-dasharray="0 16 1 19"/>
<circle r="82.44" pathLength="36" class="p5" stroke-dasharray="0 13 1 22"/>
<circle r="82.44" pathLength="36" class="p7" stroke-dasharray="0 14 3 19"/>
<circle r="86.46" pathLength="36" class="p4" stroke-dasharray="0 13 1 22"/>
<circle r="86.46" pathLength="36" class="p7" stroke-dasharray="0 14 1 21"/>
<circle r="86.46" pathLength="36" class="p8" stroke-dasharray="0 15 1 20"/>
<circle r="86.46" pathLength="36" class="p9" stroke-dasharray="0 16 1 19"/>
<circle r="90.48" pathLength="36" class="p4" stroke-dasharray="0 13 1 22"/>
<circle r="90.48" pathLength="36" class="p7" stroke-dasharray="0 14 2 20"/>
<circle r="90.48" pathLength="36" class="p9" stroke-dasharray="0 16 1 19"/>
<circle r="94.51" pathLength="36" class="p7" stroke-dasharray="0 14 3 19"/>
<circle r="94.51" pathLength="36" class="p9" stroke-dasharray="0 13 1 22"/>
<circle r="98.53" pathLength="36" class="p7" stroke-dasharray="0 15 2 19"/>
<circle r="98.53" pathLength="36" class="p8" stroke-dasharray="0 14 1 21"/>
<circle r="98.53" pathLength="36" class="p9" stroke-dasharray="0 18 1 17"/>
<circle r="102.55" pathLength="36" class="p6" stroke-dasharray="0 16 1 19"/>
<circle r="102.55" pathLength="36" class="p7" stroke-dasharray="0 14 2 20"/>
<circle r="102.55" pathLength="36" class="p8" stroke-dasharray="0 17 1 18"/>
<circle r="106.57" pathLength="36" class="p7" stroke-dasharray="0 13 1 22"/>
<circle r="110.59" pathLength="36" class="p7" stroke-dasharray="0 14 1 21"/>
</g>
<g fill="none" stroke="#a7a7a7" stroke-width="2.4">
<circle cx="475.85" cy="972.55" r="20.11"/>
<circle cx="475.85" cy="972.55" r="40.22"/>
<circle cx="475.85" cy="972.55" r="60.32"/>
<circle cx="475.85" cy="972.55" r="80.43"/>
<circle cx="475.85" cy="972.55" r="100.54"/>
</g>
<g font-size="23.5" text-anchor="middle" fill="#000">
<text x="475.85" y="854.72">N</text>
<text x="602.08" y="980.95">E</text>
<text x="475.85" y="1107.17">S</text>
<text x="349.62" y="980.95">W</text>
<text x="490.07" y="966.73">0</text>
<text x="504.29" y="952.51">5</text>
<text x="518.5" y="938.3">10</text>
<text x="532.72" y="924.08">15</text>
<text x="546.94" y="909.86">20</text>
</g>
</g>
<path fill="none" stroke="#555" stroke-width="1.5" d="M335.5 1112.8L335.5 832.3L616.2 832.3"/>
<path fill="none" stroke="#333" stroke-width="2.3" stroke-linejoin="miter" d="M335.5 1112.8L616.2 1112.8L616.2 831.8"/>
<rect x="335.5" y="795.6" width="280.7" height="36.7" fill="#d9d9d9"/>
<path fill="none" stroke="#555" stroke-width="1.5" d="M335.5 832.3L335.5 795.6L616.2 795.6"/>
<path fill="none" stroke="#333" stroke-width="2.3" stroke-linejoin="miter" d="M335.5 832.3L616.2 832.3L616.2 795.1"/>
<text x="475.85" y="821.15" font-size="17.8" fill="#1a1a1a" text-anchor="middle">Spring</text>
<g>
<g fill="none">
<path stroke="#e3e3e3" stroke-width="1.0" d="M94.13 1212.73L272.77 1391.37M94.13 1391.37L272.77 1212.73"/>
<path stroke="#d9d9d9" stroke-width="2.0" d="M57.14 1302.05L309.76 1302.05M183.45 1175.73L183.45 1428.37"/>
<circle cx="183.45" cy="1302.05" r="126.31" stroke="#e5e5e5" stroke-width="2.1"/>
</g>
<g transform="translate(183.45 1302.05) rotate(-95)" fill="none" stroke-width="4.42" shape-rendering="crispEdges">
<circle r="22.13" pathLength="36" class="p0" stroke-dasharray="0 33 1 2"/>
<circle r="22.13" pathLength="36" class="p3" stroke-dasharray="0 11 1 23 1 0"/>
<circle r="22.13" pathLength="36" class="p4" stroke-dasharray="0 7 1 1 1 4 1 11 1 4 1 4"/>
<circle r="22.13" pathLength="36" class="p5" stroke-dasharray="0 1 1 1 1 8 1 5 1 5 1 9 1 1"/>
<circle r="22.13" pathLength="36" class="p6" stroke-dasharray="1 1 1 2 2 3 1 5 2 1 1 5 1 6 1 3"/>
<circle r="22.13" pathLength="36" class="p8" stroke-dasharray="0 4 1 31"/>
<circle r="22.13" pathLength="36" class="p9" stroke-dasharray="0 27 1 8"/>
<circle r="26.16" pathLength="36" class="p0" stroke-dasharray="0 10 1 10 1 14"/>
<circle r="26.16" pathLength="36" class="p3" stroke-dasharray="0 25 1 10"/>
<circle r="26.16" pathLength="36" class="p4" stroke-dasharray="0 13 1 2 1 19"/>
<circle r="26.16" pathLength="36" class="p5" stroke-dasharray="1 11 1 1 2 3 1 6 1 3 1 1 1 1 1 1"/>
<circle r="26.16" pathLength="36" class="p6" stroke-dasharray="0 3 1 1 1 1 1 20 1 2 1 1 1 1 1 0"/>
<circle r="26.16" pathLength="36" class="p7" stroke-dasharray="0 11 1 8 1 8 1 6"/>
<circle r="30.18" pathLength="36" class="p0" stroke-dasharray="0 6 1 29"/>
<circle r="30.18" pathLength="36" class="p2" stroke-dasharray="0 5 1 30"/>
<circle r="30.18" pathLength="36" class="p3" stroke-dasharray="0 32 1 1 1 1"/>
<circle r="30.18" pathLength="36" class="p4" stroke-dasharray="0 2 3 6 2 13 1 4 1 3 1 0"/>
<circle r="30.18" pathLength="36" class="p5" stroke-dasharray="1 8 1 3 4 2 1 9 2 2 1 2"/>
<circle r="30.18" pathLength="36" class="p6" stroke-dasharray="0 1 1 8 1 6 1 3 1 2 1 3 1 7"/>
<circle r="30.18" pathLength="36" class="p7" stroke-dasharray="0 7 1 17 1 10"/>
<circle r="34.21" pathLength="36" class="p0" stroke-dasharray="1 35"/>
<circle r="34.21" pathLength="36" class="p1" stroke-dasharray="0 19 1 2 1 13"/>
<circle r="34.21" pathLength="36" class="p3" stroke-dasharray="0 18 1 5 1 6 1 1 1 2"/>
<circle r="34.21" pathLength="36" class="p4" stroke-dasharray="0 6 2 7 1 13 2 1 1 1 1 1"/>
<circle r="34.21" pathLength="36" class="p5" stroke-dasharray="0 3 1 6 5 1 2 5 1 12"/>
<circle r="34.21" pathLength="36" class="p6" stroke-dasharray="0 4 1 20 1 9 1 0"/>
<circle r="34.21" pathLength="36" class="p7" stroke-dasharray="0 2 1 33"/>
<circle r="38.23" pathLength="36" class="p2" stroke-dasharray="1 8 1 16 1 9"/>
<circle r="38.23" pathLength="36" class="p3" stroke-dasharray="0 12 2 1 2 11 1 1 3 3"/>
<circle r="38.23" pathLength="36" class="p4" stroke-dasharray="0 3 1 10 1 12 1 1 1 3 1 2"/>
<circle r="38.23" pathLength="36" class="p5" stroke-dasharray="0 6 1 1 1 2 1 5 1 16 2 0"/>
<circle r="38.23" pathLength="36" class="p7" stroke-dasharray="0 18 1 17"/>
<circle r="42.26" pathLength="36" class="p0" stroke-dasharray="0 34 1 1"/>
<circle r="42.26" pathLength="36" class="p1" stroke-dasharray="0 18 1 17"/>
<circle r="42.26" pathLength="36" class="p2" stroke-dasharray="0 9 2 25"/>
<circle r="42.26" pathLength="36" class="p3" stroke-dasharray="0 16 2 11 1 1 1 4"/>
<circle r="42.26" pathLength="36" class="p4" stroke-dasharray="0 12 1 17 1 5"/>
<circle r="42.26" pathLength="36" class="p5" stroke-dasharray="0 15 1 16 1 3"/>
<circle r="42.26" pathLength="36" class="p6" stroke-dasharray="1 4 1 7 1 19 1 2"/>
<circle r="42.26" pathLength="36" class="p7" stroke-dasharray="0 14 1 21"/>
<circle r="46.28" pathLength="36" class="p0" stroke-dasharray="0 34 1 1"/>
<circle r="46.28" pathLength="36" class="p1" stroke-dasharray="0 16 1 19"/>
<circle r="46.28" pathLength="36" class="p3" stroke-dasharray="0 29 2 5"/>
<circle r="46.28" pathLength="36" class="p4" stroke-dasharray="0 12 1 18 1 4"/>
<circle r="46.28" pathLength="36" class="p6" stroke-dasharray="0 13 1 18 2 2"/>
<circle r="46.28" pathLength="36" class="p7" stroke-dasharray="0 14 2 1 1 18"/>
<circle r="50.3" pathLength="36" class="p2" stroke-dasharray="0 17 1 11 1 6"/>
<circle r="50.3" pathLength="36" class="p3" stroke-dasharray="0 16 1 15 1 3"/>
<circle r="50.3" pathLength="36" class="p4" stroke-dasharray="0 12 1 23"/>
<circle r="50.3" pathLength="36" class="p5" stroke-dasharray="0 6 1 23 2 4"/>
<circle r="50.3" pathLength="36" class="p7" stroke-dasharray="0 13 3 17 1 2"/>
<circle r="50.3" pathLength="36" class="p8" stroke-dasharray="0 18 1 17"/>
<circle r="50.3" pathLength="36" class="p9" stroke-dasharray="0 11 1 24"/>
<circle r="54.33" pathLength="36" class="p1" stroke-dasharray="0 32 1 3"/>
<circle r="54.33" pathLength="36" class="p2" stroke-dasharray="0 11 1 24"/>
<circle r="54.33" pathLength="36" class="p3" stroke-dasharray="0 16 1 16 1 2"/>
<circle r="54.33" pathLength="36" class="p4" stroke-dasharray="0 12 1 23"/>
<circle r="54.33" pathLength="36" class="p6" stroke-dasharray="0 15 1 14 2 4"/>
<circle r="54.33" pathLength="36" class="p7" stroke-dasharray="0 13 2 14 1 6"/>
<circle r="58.35" pathLength="36" class="p2" stroke-dasharray="0 2 2 32"/>
<circle r="58.35" pathLength="36" class="p3" stroke-dasharray="0 15 2 15 1 3"/>
<circle r="58.35" pathLength="36" class="p6" stroke-dasharray="0 30 1 5"/>
<circle r="58.35" pathLength="36" class="p7" stroke-dasharray="0 12 3 16 1 4"/>
<circle r="58.35" pathLength="36" class="p8" stroke-dasharray="0 29 1 6"/>
<circle r="62.38" pathLength="36" class="p2" stroke-dasharray="0 32 1 3"/>
<circle r="62.38" pathLength="36" class="p3" stroke-dasharray="0 29 2 5"/>
<circle r="62.38" pathLength="36" class="p4" stroke-dasharray="0 15 1 20"/>
<circle r="62.38" pathLength="36" class="p6" stroke-dasharray="0 13 1 22"/>
<circle r="62.38" pathLength="36" class="p7" stroke-dasharray="0 14 1 16 1 4"/>
<circle r="62.38" pathLength="36" class="p9" stroke-dasharray="0 12 1 23"/>
<circle r="66.4" pathLength="36" class="p2" stroke-dasharray="0 32 1 3"/>
<circle r="66.4" pathLength="36" class="p3" stroke-dasharray="0 29 2 5"/>
<circle r="66.4" pathLength="36" class="p5" stroke-dasharray="0 15 1 15 1 4"/>
<circle r="66.4" pathLength="36" class="p7" stroke-dasharray="0 13 2 21"/>
<circle r="66.4" pathLength="36" class="p9" stroke-dasharray="0 12 1 23"/>
<circle r="70.43" pathLength="36" class="p0" stroke-dasharray="0 29 2 5"/>
<circle r="70.43" pathLength="36" class="p4" stroke-dasharray="0 31 1 4"/>
<circle r="70.43" pathLength="36" class="p6" stroke-dasharray="0 14 1 21"/>
<circle r="70.43" pathLength="36" class="p7" stroke-dasharray="0 15 1 20"/>
<circle r="70.43" pathLength="36" class="p8" stroke-dasharray="0 13 1 22"/>
<circle r="74.45" pathLength="36" class="p0" stroke-dasharray="0 30 2 4"/>
<circle r="74.45" pathLength="36" class="p5" stroke-dasharray="0 16 2 18"/>
<circle r="74.45" pathLength="36" class="p7" stroke-dasharray="0 15 1 20"/>
<circle r="74.45" pathLength="36" class="p8" stroke-dasharray="0 14 1 17 1 3"/>
<circle r="78.48" pathLength="36" class="p0" stroke-dasharray="0 29 1 1 1 4"/>
<circle r="78.48" pathLength="36" class="p1" stroke-dasharray="0 30 1 5"/>
<circle r="78.48" pathLength="36" class="p4" stroke-dasharray="0 15 1 20"/>
<circle r="78.48" pathLength="36" class="p7" stroke-dasharray="0 13 1 22"/>
<circle r="78.48" pathLength="36" class="p9" stroke-dasharray="0 14 1 21"/>
<circle r="82.5" pathLength="36" class="p0" stroke-dasharray="0 29 1 6"/>
<circle r="82.5" pathLength="36" class="p2" stroke-dasharray="0 32 1 3"/>
<circle r="82.5" pathLength="36" class="p9" stroke-dasharray="0 15 1 20"/>
<circle r="86.52" pathLength="36" class="p0" stroke-dasharray="0 31 1 4"/>
<circle r="86.52" pathLength="36" class="p1" stroke-dasharray="0 30 1 5"/>
<circle r="86.52" pathLength="36" class="p2" stroke-dasharray="0 32 1 3"/>
<circle r="86.52" pathLength="36" class="p9" stroke-dasharray="0 14 1 21"/>
<circle r="90.55" pathLength="36" class="p0" stroke-dasharray="0 29 1 1 1 4"/>
<circle r="90.55" pathLength="36" class="p1" stroke-dasharray="0 30 1 5"/>
<circle r="90.55" pathLength="36" class="p6" stroke-dasharray="0 13 1 22"/>
<circle r="94.57" pathLength="36" class="p0" stroke-dasharray="0 29 1 6"/>
<circle r="94.57" pathLength="36" class="p9" stroke-dasharray="0 14 1 21"/>
<circle r="98.6" pathLength="36" class="p0" stroke-dasharray="0 30 1 5"/>
<circle r="98.6" pathLength="36" class="p7" stroke-dasharray="0 14 1 21"/>
</g>
<g fill="none" stroke="#a7a7a7" stroke-width="2.4">
<circle cx="183.45" cy="1302.05" r="20.12"/>
<circle cx="183.45" cy="1302.05" r="40.24"/>
<circle cx="183.45" cy="1302.05" r="60.37"/>
<circle cx="183.45" cy="1302.05" r="80.49"/>
<circle cx="183.45" cy="1302.05" r="100.61"/>
</g>
<g font-size="23.5" text-anchor="middle" fill="#000">
<text x="183.45" y="1184.13">N</text>
<text x="309.76" y="1310.45">E</text>
<text x="183.45" y="1436.77">S</text>
<text x="57.14" y="1310.45">W</text>
<text x="197.68" y="1296.22">0</text>
<text x="211.91" y="1281.99">5</text>
<text x="226.13" y="1267.77">10</text>
<text x="240.36" y="1253.54">15</text>
<text x="254.59" y="1239.31">20</text>
</g>
</g>
<path fill="none" stroke="#555" stroke-width="1.5" d="M43.1 1442.4L43.1 1161.7L323.8 1161.7"/>
<path fill="none" stroke="#333" stroke-width="2.3" stroke-linejoin="miter" d="M43.1 1442.4L323.8 1442.4L323.8 1161.2"/>
<rect x="43.1" y="1125.2" width="280.7" height="36.5" fill="#d9d9d9"/>
<path fill="none" stroke="#555" stroke-width="1.5" d="M43.1 1161.7L43.1 1125.2L323.8 1125.2"/>
<path fill="none" stroke="#333" stroke-width="2.3" stroke-linejoin="miter" d="M43.1 1161.7L323.8 1161.7L323.8 1124.7"/>
<text x="183.45" y="1150.65" font-size="17.8" fill="#1a1a1a" text-anchor="middle">Summer</text>
<g>
<g fill="none">
<path stroke="#e3e3e3" stroke-width="1.0" d="M386.53 1212.73L565.17 1391.37M386.53 1391.37L565.17 1212.73"/>
<path stroke="#d9d9d9" stroke-width="2.0" d="M349.53 1302.05L602.17 1302.05M475.85 1175.73L475.85 1428.37"/>
<circle cx="475.85" cy="1302.05" r="126.32" stroke="#e5e5e5" stroke-width="2.1"/>
</g>
<g transform="translate(475.85 1302.05) rotate(-95)" fill="none" stroke-width="4.42" shape-rendering="crispEdges">
<circle r="22.13" pathLength="36" class="p3" stroke-dasharray="0 19 2 14 1 0"/>
<circle r="22.13" pathLength="36" class="p4" stroke-dasharray="0 2 1 1 2 5 2 1 3 4 2 3 3 2 2 3"/>
<circle r="22.13" pathLength="36" class="p5" stroke-dasharray="0 1 1 6 1 4 1 3 1 11 2 2 1 2"/>
<circle r="22.13" pathLength="36" class="p8" stroke-dasharray="0 3 1 32"/>
<circle r="26.16" pathLength="36" class="p2" stroke-dasharray="0 5 1 30"/>
<circle r="26.16" pathLength="36" class="p3" stroke-dasharray="0 3 1 7 1 13 2 6 1 2"/>
<circle r="26.16" pathLength="36" class="p4" stroke-dasharray="1 6 4 4 2 3 1 1 1 6 2 3 1 1"/>
<circle r="26.16" pathLength="36" class="p5" stroke-dasharray="0 1 1 4 1 5 3 2 1 1 1 1 1 1 2 2 2 2 2 3"/>
<circle r="30.18" pathLength="36" class="p1" stroke-dasharray="0 35 1 0"/>
<circle r="30.18" pathLength="36" class="p2" stroke-dasharray="0 3 1 9 1 22"/>
<circle r="30.18" pathLength="36" class="p3" stroke-dasharray="0 25 1 2 1 3 1 3"/>
<circle r="30.18" pathLength="36" class="p4" stroke-dasharray="3 3 5 1 1 2 2 1 4 1 1 3 1 2 2 4"/>
<circle r="30.18" pathLength="36" class="p5" stroke-dasharray="0 14 1 9 1 1 1 2 1 3 2 1"/>
<circle r="30.18" pathLength="36" class="p7" stroke-dasharray="0 5 1 11 1 18"/>
<circle r="34.21" pathLength="36" class="p1" stroke-dasharray="0 19 2 15"/>
<circle r="34.21" pathLength="36" class="p2" stroke-dasharray="0 15 1 12 1 7"/>
<circle r="34.21" pathLength="36" class="p3" stroke-dasharray="0 11 1 2 1 15 1 1 1 3"/>
<circle r="34.21" pathLength="36" class="p4" stroke-dasharray="2 1 1 1 1 6 1 3 2 5 4 2 1 1 1 1 2 1"/>
<circle r="34.21" pathLength="36" class="p5" stroke-dasharray="0 2 1 1 1 1 2 1 1 3 1 8 1 13"/>
<circle r="34.21" pathLength="36" class="p7" stroke-dasharray="0 18 1 17"/>
<circle r="34.21" pathLength="36" class="p9" stroke-dasharray="0 10 1 25"/>
<circle r="38.23" pathLength="36" class="p2" stroke-dasharray="0 26 4 6"/>
<circle r="38.23" pathLength="36" class="p3" stroke-dasharray="0 12 1 2 3 1 1 10 1 3 1 1"/>
<circle r="38.23" pathLength="36" class="p4" stroke-dasharray="7 6 2 3 1 5 1 8 1 2"/>
<circle r="38.23" pathLength="36" class="p5" stroke-dasharray="0 11 1 19 2 2 1 0"/>
<circle r="38.23" pathLength="36" class="p6" stroke-dasharray="0 8 1 27"/>
<circle r="42.26" pathLength="36" class="p2" stroke-dasharray="0 18 1 17"/>
<circle r="42.26" pathLength="36" class="p3" stroke-dasharray="0 24 1 6 1 4"/>
<circle r="42.26" pathLength="36" class="p4" stroke-dasharray="1 7 1 1 1 6 1 10 3 1 4 0"/>
<circle r="42.26" pathLength="36" class="p5" stroke-dasharray="0 13 1 1 2 19"/>
<circle r="42.26" pathLength="36" class="p6" stroke-dasharray="0 11 2 1 1 21"/>
<circle r="46.28" pathLength="36" class="p2" stroke-dasharray="0 11 1 6 1 17"/>
<circle r="46.28" pathLength="36" class="p3" stroke-dasharray="0 1 1 28 2 4"/>
<circle r="46.28" pathLength="36" class="p4" stroke-dasharray="0 8 1 8 1 11 1 2 2 1 1 0"/>
<circle r="46.28" pathLength="36" class="p5" stroke-dasharray="0 2 1 13 1 19"/>
<circle r="46.28" pathLength="36" class="p6" stroke-dasharray="0 12 2 1 1 20"/>
<circle r="46.28" pathLength="36" class="p7" stroke-dasharray="0 14 1 19 1 1"/>
<circle r="50.3" pathLength="36" class="p2" stroke-dasharray="0 17 1 18"/>
<circle r="50.3" pathLength="36" class="p3" stroke-dasharray="0 11 1 24"/>
<circle r="50.3" pathLength="36" class="p4" stroke-dasharray="2 30 2 2"/>
<circle r="50.3" pathLength="36" class="p5" stroke-dasharray="0 16 1 10 1 2 2 2 1 1"/>
<circle r="50.3" pathLength="36" class="p6" stroke-dasharray="0 12 1 23"/>
<circle r="50.3" pathLength="36" class="p7" stroke-dasharray="0 13 3 20"/>
<circle r="50.3" pathLength="36" class="p9" stroke-dasharray="0 35 1 0"/>
<circle r="54.33" pathLength="36" class="p2" stroke-dasharray="0 27 1 6 1 1"/>
<circle r="54.33" pathLength="36" class="p4" stroke-dasharray="0 16 1 16 1 2"/>
<circle r="54.33" pathLength="36" class="p5" stroke-dasharray="1 10 1 18 3 3"/>
<circle r="54.33" pathLength="36" class="p6" stroke-dasharray="0 35 1 0"/>
<circle r="54.33" pathLength="36" class="p7" stroke-dasharray="0 12 4 20"/>
<circle r="54.33" pathLength="36" class="p8" stroke-dasharray="0 29 1 6"/>
<circle r="58.35" pathLength="36" class="p2" stroke-dasharray="0 34 2 0"/>
<circle r="58.35" pathLength="36" class="p4" stroke-dasharray="0 31 3 2"/>
<circle r="58.35" pathLength="36" class="p5" stroke-dasharray="0 13 1 16 1 5"/>
<circle r="58.35" pathLength="36" class="p6" stroke-dasharray="0 29 1 6"/>
<circle r="58.35" pathLength="36" class="p7" stroke-dasharray="0 14 2 20"/>
<circle r="62.38" pathLength="36" class="p2" stroke-dasharray="0 1 1 32 1 1"/>
<circle r="62.38" pathLength="36" class="p3" stroke-dasharray="0 16 1 13 2 1 1 1 1 0"/>
<circle r="62.38" pathLength="36" class="p4" stroke-dasharray="0 32 1 3"/>
<circle r="62.38" pathLength="36" class="p6" stroke-dasharray="0 29 1 6"/>
<circle r="62.38" pathLength="36" class="p8" stroke-dasharray="0 12 1 23"/>
<circle r="62.38" pathLength="36" class="p9" stroke-dasharray="0 13 3 20"/>
<circle r="66.4" pathLength="36" class="p3" stroke-dasharray="0 32 2 2"/>
<circle r="66.4" pathLength="36" class="p4" stroke-dasharray="0 12 1 17 2 2 1 1"/>
<circle r="66.4" pathLength="36" class="p6" stroke-dasharray="0 14 3 12 1 6"/>
<circle r="66.4" pathLength="36" class="p9" stroke-dasharray="0 13 1 22"/>
<circle r="70.43" pathLength="36" class="p2" stroke-dasharray="0 27 1 4 2 2"/>
<circle r="70.43" pathLength="36" class="p3" stroke-dasharray="0 29 1 6"/>
<circle r="70.43" pathLength="36" class="p4" stroke-dasharray="0 30 2 2 1 1"/>
<circle r="70.43" pathLength="36" class="p5" stroke-dasharray="0 28 1 7"/>
<circle r="70.43" pathLength="36" class="p7" stroke-dasharray="0 12 1 23"/>
<circle r="70.43" pathLength="36" class="p8" stroke-dasharray="0 13 1 22"/>
<circle r="70.43" pathLength="36" class="p9" stroke-dasharray="0 14 2 20"/>
<circle r="74.45" pathLength="36" class="p2" stroke-dasharray="0 32 2 2"/>
<circle r="74.45" pathLength="36" class="p3" stroke-dasharray="0 29 1 6"/>
<circle r="74.45" pathLength="36" class="p4" stroke-dasharray="0 30 2 4"/>
<circle r="74.45" pathLength="36" class="p6" stroke-dasharray="0 17 1 18"/>
<circle r="74.45" pathLength="36" class="p7" stroke-dasharray="0 12 1 2 1 20"/>
<circle r="74.45" pathLength="36" class="p9" stroke-dasharray="0 13 2 1 1 19"/>
<circle r="78.48" pathLength="36" class="p4" stroke-dasharray="0 30 1 2 1 2"/>
<circle r="78.48" pathLength="36" class="p5" stroke-dasharray="0 31 2 3"/>
<circle r="78.48" pathLength="36" class="p9" stroke-dasharray="0 13 5 18"/>
<circle r="82.5" pathLength="36" class="p3" stroke-dasharray="0 35 1 0"/>
<circle r="82.5" pathLength="36" class="p4" stroke-dasharray="0 32 1 3"/>
<circle r="82.5" pathLength="36" class="p5" stroke-dasharray="0 30 2 1 1 2"/>
<circle r="82.5" pathLength="36" class="p7" stroke-dasharray="0 14 1 21"/>
<circle r="82.5" pathLength="36" class="p9" stroke-dasharray="0 13 1 1 1 20"/>
<circle r="86.52" pathLength="36" class="p2" stroke-dasharray="0 27 1 8"/>
<circle r="86.52" pathLength="36" class="p3" stroke-dasharray="0 34 1 1"/>
<circle r="86.52" pathLength="36" class="p4" stroke-dasharray="0 31 3 2"/>
<circle r="86.52" pathLength="36" class="p5" stroke-dasharray="0 13 1 22"/>
<circle r="86.52" pathLength="36" class="p6" stroke-dasharray="0 14 1 21"/>
<circle r="86.52" pathLength="36" class="p9" stroke-dasharray="0 15 2 19"/>
<circle r="90.55" pathLength="36" class="p4" stroke-dasharray="0 34 1 1"/>
<circle r="90.55" pathLength="36" class="p6" stroke-dasharray="0 12 1 23"/>
<circle r="90.55" pathLength="36" class="p7" stroke-dasharray="0 15 1 20"/>
<circle r="90.55" pathLength="36" class="p9" stroke-dasharray="0 14 1 2 1 18"/>
<circle r="94.57" pathLength="36" class="p3" stroke-dasharray="0 15 1 20"/>
<circle r="94.57" pathLength="36" class="p8" stroke-dasharray="0 13 1 22"/>
<circle r="94.57" pathLength="36" class="p9" stroke-dasharray="0 17 1 18"/>
<circle r="98.6" pathLength="36" class="p3" stroke-dasharray="0 15 1 20"/>
<circle r="98.6" pathLength="36" class="p4" stroke-dasharray="0 32 1 3"/>
<circle r="102.62" pathLength="36" class="p7" stroke-dasharray="0 16 1 19"/>
<circle r="106.65" pathLength="36" class="p3" stroke-dasharray="0 14 1 21"/>
<circle r="106.65" pathLength="36" class="p6" stroke-dasharray="0 19 1 16"/>
</g>
<g fill="none" stroke="#a7a7a7" stroke-width="2.4">
<circle cx="475.85" cy="1302.05" r="20.12"/>
<circle cx="475.85" cy="1302.05" r="40.24"/>
<circle cx="475.85" cy="1302.05" r="60.37"/>
<circle cx="475.85" cy="1302.05" r="80.49"/>
<circle cx="475.85" cy="1302.05" r="100.61"/>
</g>
<g font-size="23.5" text-anchor="middle" fill="#000">
<text x="475.85" y="1184.13">N</text>
<text x="602.17" y="1310.45">E</text>
<text x="475.85" y="1436.77">S</text>
<text x="349.53" y="1310.45">W</text>
<text x="490.08" y="1296.22">0</text>
<text x="504.31" y="1281.99">5</text>
<text x="518.53" y="1267.77">10</text>
<text x="532.76" y="1253.54">15</text>
<text x="546.99" y="1239.31">20</text>
</g>
</g>
<path fill="none" stroke="#555" stroke-width="1.5" d="M335.5 1442.4L335.5 1161.7L616.2 1161.7"/>
<path fill="none" stroke="#333" stroke-width="2.3" stroke-linejoin="miter" d="M335.5 1442.4L616.2 1442.4L616.2 1161.2"/>
<rect x="335.5" y="1125.2" width="280.7" height="36.5" fill="#d9d9d9"/>
<path fill="none" stroke="#555" stroke-width="1.5" d="M335.5 1161.7L335.5 1125.2L616.2 1125.2"/>
<path fill="none" stroke="#333" stroke-width="2.3" stroke-linejoin="miter" d="M335.5 1161.7L616.2 1161.7L616.2 1124.7"/>
<text x="475.85" y="1150.65" font-size="17.8" fill="#1a1a1a" text-anchor="middle">Autumn</text>
<g>
<g fill="none">
<path stroke="#e3e3e3" stroke-width="1.0" d="M935.4 883.45L1113.6 1061.65M935.4 1061.65L1113.6 883.45"/>
<path stroke="#d9d9d9" stroke-width="2.0" d="M898.5 972.55L1150.5 972.55M1024.5 846.55L1024.5 1098.55"/>
<circle cx="1024.5" cy="972.55" r="126" stroke="#e5e5e5" stroke-width="2.1"/>
</g>
<g transform="translate(1024.5 972.55) rotate(-95)" fill="none" stroke-width="4.41" shape-rendering="crispEdges">
<circle r="22.08" pathLength="36" class="q0" stroke-dasharray="1 15 1 1 1 5 1 10 1 0"/>
<circle r="22.08" pathLength="36" class="q1" stroke-dasharray="0 1 1 2 1 20 1 2 1 7"/>
<circle r="22.08" pathLength="36" class="q2" stroke-dasharray="0 6 2 3 1 7 1 2 1 3 2 8"/>
<circle r="22.08" pathLength="36" class="q3" stroke-dasharray="0 2 1 2 1 3 1 10 1 15"/>
<circle r="22.08" pathLength="36" class="q4" stroke-dasharray="0 13 3 14 1 2 1 2"/>
<circle r="22.08" pathLength="36" class="q5" stroke-dasharray="0 31 2 3"/>
<circle r="26.09" pathLength="36" class="q0" stroke-dasharray="0 3 2 4 1 10 1 15"/>
<circle r="26.09" pathLength="36" class="q1" stroke-dasharray="0 1 1 9 1 11 1 3 1 1 1 6"/>
<circle r="26.09" pathLength="36" class="q2" stroke-dasharray="0 7 1 2 1 8 1 2 1 3 1 9"/>
<circle r="26.09" pathLength="36" class="q3" stroke-dasharray="1 24 1 2 1 6 1 0"/>
<circle r="26.09" pathLength="36" class="q4" stroke-dasharray="0 12 2 2 1 17 1 1"/>
<circle r="26.09" pathLength="36" class="q5" stroke-dasharray="0 14 2 14 1 5"/>
<circle r="26.09" pathLength="36" class="q6" stroke-dasharray="0 31 1 1 1 2"/>
<circle r="26.09" pathLength="36" class="q7" stroke-dasharray="0 32 1 3"/>
<circle r="30.11" pathLength="36" class="q0" stroke-dasharray="1 18 1 4 3 9"/>
<circle r="30.11" pathLength="36" class="q1" stroke-dasharray="0 6 1 13 1 6 1 8"/>
<circle r="30.11" pathLength="36" class="q2" stroke-dasharray="0 1 3 6 2 6 1 4 1 10 1 1"/>
<circle r="30.11" pathLength="36" class="q3" stroke-dasharray="0 4 1 4 1 25 1 0"/>
<circle r="30.11" pathLength="36" class="q4" stroke-dasharray="0 29 1 6"/>
<circle r="30.11" pathLength="36" class="q5" stroke-dasharray="0 12 1 3 1 19"/>
<circle r="30.11" pathLength="36" class="q6" stroke-dasharray="0 13 3 14 1 5"/>
<circle r="30.11" pathLength="36" class="q7" stroke-dasharray="0 31 3 2"/>
<circle r="34.12" pathLength="36" class="q0" stroke-dasharray="0 5 1 1 1 1 1 7 1 1 1 6 2 1 1 6"/>
<circle r="34.12" pathLength="36" class="q1" stroke-dasharray="0 2 1 1 1 23 1 7"/>
<circle r="34.12" pathLength="36" class="q2" stroke-dasharray="1 9 1 7 1 1 1 1 2 1 1 10"/>
<circle r="34.12" pathLength="36" class="q3" stroke-dasharray="0 1 1 22 1 11"/>
<circle r="34.12" pathLength="36" class="q4" stroke-dasharray="0 11 1 22 1 1"/>
<circle r="34.12" pathLength="36" class="q5" stroke-dasharray="0 12 1 3 1 13 1 5"/>
<circle r="34.12" pathLength="36" class="q6" stroke-dasharray="0 13 1 1 1 20"/>
<circle r="34.12" pathLength="36" class="q7" stroke-dasharray="0 14 1 16 3 2"/>
<circle r="38.14" pathLength="36" class="q0" stroke-dasharray="0 7 2 1 1 6 3 16"/>
<circle r="38.14" pathLength="36" class="q1" stroke-dasharray="0 3 1 5 1 10 1 14 1 0"/>
<circle r="38.14" pathLength="36" class="q2" stroke-dasharray="1 1 1 1 1 1 1 17 1 4 1 6"/>
<circle r="38.14" pathLength="36" class="q4" stroke-dasharray="0 11 1 18 1 5"/>
<circle r="38.14" pathLength="36" class="q5" stroke-dasharray="0 16 1 19"/>
<circle r="38.14" pathLength="36" class="q6" stroke-dasharray="0 12 1 23"/>
<circle r="38.14" pathLength="36" class="q7" stroke-dasharray="0 13 3 15 3 2"/>
<circle r="42.15" pathLength="36" class="q0" stroke-dasharray="0 2 1 16 2 13 2 0"/>
<circle r="42.15" pathLength="36" class="q1" stroke-dasharray="0 18 1 9 1 7"/>
<circle r="42.15" pathLength="36" class="q2" stroke-dasharray="0 10 1 25"/>
<circle r="42.15" pathLength="36" class="q4" stroke-dasharray="0 11 1 17 1 6"/>
<circle r="42.15" pathLength="36" class="q5" stroke-dasharray="0 16 2 12 1 5"/>
<circle r="42.15" pathLength="36" class="q6" stroke-dasharray="0 12 1 20 1 2"/>
<circle r="42.15" pathLength="36" class="q7" stroke-dasharray="0 13 3 15 2 3"/>
<circle r="46.16" pathLength="36" class="q0" stroke-dasharray="0 10 2 10 1 5 1 6 1 0"/>
<circle r="46.16" pathLength="36" class="q1" stroke-dasharray="0 19 1 9 1 4 1 1"/>
<circle r="46.16" pathLength="36" class="q4" stroke-dasharray="0 18 1 17"/>
<circle r="46.16" pathLength="36" class="q5" stroke-dasharray="0 12 1 23"/>
<circle r="46.16" pathLength="36" class="q6" stroke-dasharray="0 16 2 12 1 2 1 2"/>
<circle r="46.16" pathLength="36" class="q7" stroke-dasharray="0 13 3 15 2 3"/>
<circle r="50.18" pathLength="36" class="q0" stroke-dasharray="0 19 1 14 1 1"/>
<circle r="50.18" pathLength="36" class="q2" stroke-dasharray="0 11 2 5 1 10 1 6"/>
<circle r="50.18" pathLength="36" class="q4" stroke-dasharray="0 16 2 18"/>
<circle r="50.18" pathLength="36" class="q6" stroke-dasharray="0 30 1 2 1 2"/>
<circle r="50.18" pathLength="36" class="q7" stroke-dasharray="0 13 3 15 2 3"/>
<circle r="54.19" pathLength="36" class="q0" stroke-dasharray="0 3 1 20 1 3 1 7"/>
<circle r="54.19" pathLength="36" class="q1" stroke-dasharray="0 11 1 7 1 15 1 0"/>
<circle r="54.19" pathLength="36" class="q2" stroke-dasharray="0 12 1 4 1 11 1 6"/>
<circle r="54.19" pathLength="36" class="q4" stroke-dasharray="0 34 1 1"/>
<circle r="54.19" pathLength="36" class="q5" stroke-dasharray="0 16 1 19"/>
<circle r="54.19" pathLength="36" class="q6" stroke-dasharray="0 13 1 4 1 11 1 2 1 2"/>
<circle r="54.19" pathLength="36" class="q7" stroke-dasharray="0 14 2 15 2 3"/>
<circle r="58.21" pathLength="36" class="q0" stroke-dasharray="1 9 3 6 1 16"/>
<circle r="58.21" pathLength="36" class="q1" stroke-dasharray="0 17 2 17"/>
<circle r="58.21" pathLength="36" class="q2" stroke-dasharray="0 29 1 4 1 1"/>
<circle r="58.21" pathLength="36" class="q5" stroke-dasharray="0 13 1 2 1 19"/>
<circle r="58.21" pathLength="36" class="q6" stroke-dasharray="0 15 1 14 1 2 1 2"/>
<circle r="58.21" pathLength="36" class="q7" stroke-dasharray="0 14 1 16 2 3"/>
<circle r="62.22" pathLength="36" class="q0" stroke-dasharray="0 10 1 1 1 4 1 1 1 9 1 5 1 0"/>
<circle r="62.22" pathLength="36" class="q1" stroke-dasharray="1 35"/>
<circle r="62.22" pathLength="36" class="q2" stroke-dasharray="0 18 1 17"/>
<circle r="62.22" pathLength="36" class="q3" stroke-dasharray="0 30 1 5"/>
<circle r="62.22" pathLength="36" class="q4" stroke-dasharray="0 13 1 18 1 1 1 1"/>
<circle r="62.22" pathLength="36" class="q5" stroke-dasharray="0 16 1 14 1 1 1 2"/>
<circle r="62.22" pathLength="36" class="q6" stroke-dasharray="0 14 2 20"/>
<circle r="66.24" pathLength="36" class="q0" stroke-dasharray="0 1 1 9 3 4 1 9 1 5 1 1"/>
<circle r="66.24" pathLength="36" class="q2" stroke-dasharray="0 17 1 13 1 4"/>
<circle r="66.24" pathLength="36" class="q3" stroke-dasharray="0 30 1 2 1 2"/>
<circle r="66.24" pathLength="36" class="q4" stroke-dasharray="0 32 1 3"/>
<circle r="66.24" pathLength="36" class="q5" stroke-dasharray="0 16 1 19"/>
<circle r="66.24" pathLength="36" class="q6" stroke-dasharray="0 14 2 20"/>
<circle r="70.25" pathLength="36" class="q0" stroke-dasharray="0 1 1 16 1 17"/>
<circle r="70.25" pathLength="36" class="q1" stroke-dasharray="0 17 1 1 1 10 1 5"/>
<circle r="70.25" pathLength="36" class="q2" stroke-dasharray="0 31 1 4"/>
<circle r="70.25" pathLength="36" class="q3" stroke-dasharray="0 13 1 19 1 2"/>
<circle r="70.25" pathLength="36" class="q4" stroke-dasharray="0 15 2 15 1 1 1 1"/>
<circle r="70.25" pathLength="36" class="q6" stroke-dasharray="0 14 1 21"/>
<circle r="74.27" pathLength="36" class="q0" stroke-dasharray="0 12 1 16 1 6"/>
<circle r="74.27" pathLength="36" class="q1" stroke-dasharray="0 13 1 22"/>
<circle r="74.27" pathLength="36" class="q2" stroke-dasharray="0 32 3 1"/>
<circle r="74.27" pathLength="36" class="q3" stroke-dasharray="0 16 1 13 1 5"/>
<circle r="74.27" pathLength="36" class="q4" stroke-dasharray="0 14 2 15 1 4"/>
<circle r="78.28" pathLength="36" class="q0" stroke-dasharray="0 11 2 2 1 1 1 11 1 6"/>
<circle r="78.28" pathLength="36" class="q1" stroke-dasharray="0 13 1 22"/>
<circle r="78.28" pathLength="36" class="q2" stroke-dasharray="0 16 1 16 1 2"/>
<circle r="78.28" pathLength="36" class="q3" stroke-dasharray="0 34 1 1"/>
<circle r="78.28" pathLength="36" class="q4" stroke-dasharray="0 14 1 15 1 1 1 3"/>
<circle r="78.28" pathLength="36" class="q5" stroke-dasharray="0 31 1 4"/>
<circle r="82.29" pathLength="36" class="q0" stroke-dasharray="0 17 2 17"/>
<circle r="82.29" pathLength="36" class="q1" stroke-dasharray="0 32 2 2"/>
<circle r="82.29" pathLength="36" class="q2" stroke-dasharray="0 30 1 3 1 1"/>
<circle r="82.29" pathLength="36" class="q3" stroke-dasharray="0 13 3 20"/>
<circle r="82.29" pathLength="36" class="q4" stroke-dasharray="0 31 1 4"/>
<circle r="86.31" pathLength="36" class="q0" stroke-dasharray="0 15 1 1 1 14 2 2"/>
<circle r="86.31" pathLength="36" class="q1" stroke-dasharray="0 31 1 2 1 1"/>
<circle r="86.31" pathLength="36" class="q2" stroke-dasharray="0 14 1 21"/>
<circle r="86.31" pathLength="36" class="q3" stroke-dasharray="0 30 1 5"/>
<circle r="90.32" pathLength="36" class="q0" stroke-dasharray="0 13 1 1 1 3 1 12 3 1"/>
<circle r="90.32" pathLength="36" class="q2" stroke-dasharray="0 14 1 15 2 4"/>
<circle r="94.34" pathLength="36" class="q0" stroke-dasharray="0 13 1 1 1 20"/>
<circle r="94.34" pathLength="36" class="q1" stroke-dasharray="0 14 1 15 2 4"/>
<circle r="98.35" pathLength="36" class="q0" stroke-dasharray="0 14 1 15 2 1 1 2"/>
<circle r="98.35" pathLength="36" class="q1" stroke-dasharray="0 15 1 20"/>
<circle r="102.37" pathLength="36" class="q0" stroke-dasharray="0 15 1 20"/>
</g>
<g fill="none" stroke="#a7a7a7" stroke-width="2.4">
<circle cx="1024.5" cy="972.55" r="20.07"/>
<circle cx="1024.5" cy="972.55" r="40.14"/>
<circle cx="1024.5" cy="972.55" r="60.22"/>
<circle cx="1024.5" cy="972.55" r="80.29"/>
<circle cx="1024.5" cy="972.55" r="100.36"/>
</g>
<g font-size="23.5" text-anchor="middle" fill="#000">
<text x="1024.5" y="854.95">N</text>
<text x="1150.5" y="980.95">E</text>
<text x="1024.5" y="1106.95">S</text>
<text x="898.5" y="980.95">W</text>
<text x="1038.69" y="966.76">0</text>
<text x="1052.89" y="952.56">5</text>
<text x="1067.08" y="938.37">10</text>
<text x="1081.27" y="924.18">15</text>
<text x="1095.46" y="909.99">20</text>
</g>
</g>
<path fill="none" stroke="#555" stroke-width="1.5" d="M884.5 1112.8L884.5 832.3L1164.5 832.3"/>
<path fill="none" stroke="#333" stroke-width="2.3" stroke-linejoin="miter" d="M884.5 1112.8L1164.5 1112.8L1164.5 831.8"/>
<rect x="884.5" y="795.6" width="280" height="36.7" fill="#d9d9d9"/>
<path fill="none" stroke="#555" stroke-width="1.5" d="M884.5 832.3L884.5 795.6L1164.5 795.6"/>
<path fill="none" stroke="#333" stroke-width="2.3" stroke-linejoin="miter" d="M884.5 832.3L1164.5 832.3L1164.5 795.1"/>
<text x="1024.5" y="821.15" font-size="17.8" fill="#1a1a1a" text-anchor="middle">Winter</text>
<g>
<g fill="none">
<path stroke="#e3e3e3" stroke-width="1.0" d="M1227.48 883.33L1405.92 1061.77M1227.48 1061.77L1405.92 883.33"/>
<path stroke="#d9d9d9" stroke-width="2.0" d="M1190.52 972.55L1442.88 972.55M1316.7 846.37L1316.7 1098.73"/>
<circle cx="1316.7" cy="972.55" r="126.18" stroke="#e5e5e5" stroke-width="2.1"/>
</g>
<g transform="translate(1316.7 972.55) rotate(-95)" fill="none" stroke-width="4.42" shape-rendering="crispEdges">
<circle r="22.11" pathLength="36" class="q0" stroke-dasharray="2 2 1 3 1 6 1 6 2 3 1 1 1 4 2 0"/>
<circle r="22.11" pathLength="36" class="q1" stroke-dasharray="0 11 1 7 2 10 2 3"/>
<circle r="22.11" pathLength="36" class="q2" stroke-dasharray="0 3 1 3 1 20 1 7"/>
<circle r="26.13" pathLength="36" class="q0" stroke-dasharray="0 1 1 1 1 6 2 4 1 3 7 2 1 4 1 1"/>
<circle r="26.13" pathLength="36" class="q1" stroke-dasharray="1 1 1 5 1 27"/>
<circle r="26.13" pathLength="36" class="q2" stroke-dasharray="0 9 1 2 1 5 1 13 1 3"/>
<circle r="26.13" pathLength="36" class="q3" stroke-dasharray="0 17 1 10 1 7"/>
<circle r="26.13" pathLength="36" class="q4" stroke-dasharray="0 13 1 19 1 2"/>
<circle r="26.13" pathLength="36" class="q5" stroke-dasharray="0 15 1 14 1 5"/>
<circle r="26.13" pathLength="36" class="q6" stroke-dasharray="0 14 1 16 1 4"/>
<circle r="30.15" pathLength="36" class="q0" stroke-dasharray="0 4 1 1 1 1 2 9 1 2 1 13"/>
<circle r="30.15" pathLength="36" class="q1" stroke-dasharray="0 7 1 3 2 7 1 3 1 8 1 2"/>
<circle r="30.15" pathLength="36" class="q2" stroke-dasharray="0 21 1 14"/>
<circle r="30.15" pathLength="36" class="q3" stroke-dasharray="0 28 1 7"/>
<circle r="30.15" pathLength="36" class="q4" stroke-dasharray="0 13 1 22"/>
<circle r="30.15" pathLength="36" class="q5" stroke-dasharray="0 16 1 13 1 5"/>
<circle r="30.15" pathLength="36" class="q6" stroke-dasharray="0 14 1 16 2 3"/>
<circle r="30.15" pathLength="36" class="q7" stroke-dasharray="0 15 1 20"/>
<circle r="34.17" pathLength="36" class="q0" stroke-dasharray="0 5 1 4 3 16 1 3 1 2"/>
<circle r="34.17" pathLength="36" class="q4" stroke-dasharray="0 13 2 2 1 18"/>
<circle r="34.17" pathLength="36" class="q5" stroke-dasharray="0 16 1 13 1 5"/>
<circle r="34.17" pathLength="36" class="q7" stroke-dasharray="0 15 1 15 2 3"/>
<circle r="38.19" pathLength="36" class="q0" stroke-dasharray="0 5 2 1 1 2 2 16 1 6"/>
<circle r="38.19" pathLength="36" class="q1" stroke-dasharray="0 9 1 26"/>
<circle r="38.19" pathLength="36" class="q4" stroke-dasharray="0 13 1 2 1 13 1 5"/>
<circle r="38.19" pathLength="36" class="q5" stroke-dasharray="0 14 1 21"/>
<circle r="38.19" pathLength="36" class="q6" stroke-dasharray="0 15 1 20"/>
<circle r="38.19" pathLength="36" class="q7" stroke-dasharray="0 31 2 3"/>
<circle r="42.21" pathLength="36" class="q0" stroke-dasharray="0 11 1 6 1 15 2 0"/>
<circle r="42.21" pathLength="36" class="q2" stroke-dasharray="0 12 1 16 1 3 1 2"/>
<circle r="42.21" pathLength="36" class="q4" stroke-dasharray="0 13 1 22"/>
<circle r="42.21" pathLength="36" class="q5" stroke-dasharray="0 30 1 5"/>
<circle r="42.21" pathLength="36" class="q6" stroke-dasharray="0 14 2 16 1 3"/>
<circle r="42.21" pathLength="36" class="q7" stroke-dasharray="0 31 1 4"/>
<circle r="46.23" pathLength="36" class="q0" stroke-dasharray="0 12 1 3 1 1 1 10 1 5 1 0"/>
<circle r="46.23" pathLength="36" class="q3" stroke-dasharray="0 32 1 3"/>
<circle r="46.23" pathLength="36" class="q4" stroke-dasharray="0 13 1 22"/>
<circle r="46.23" pathLength="36" class="q6" stroke-dasharray="0 14 2 14 1 5"/>
<circle r="46.23" pathLength="36" class="q7" stroke-dasharray="0 31 1 4"/>
<circle r="50.25" pathLength="36" class="q0" stroke-dasharray="1 15 1 12 1 3 1 2"/>
<circle r="50.25" pathLength="36" class="q2" stroke-dasharray="0 17 1 18"/>
<circle r="50.25" pathLength="36" class="q4" stroke-dasharray="0 13 1 22"/>
<circle r="50.25" pathLength="36" class="q5" stroke-dasharray="0 32 1 3"/>
<circle r="50.25" pathLength="36" class="q6" stroke-dasharray="0 14 2 14 1 5"/>
<circle r="50.25" pathLength="36" class="q7" stroke-dasharray="0 31 1 4"/>
<circle r="54.27" pathLength="36" class="q0" stroke-dasharray="0 12 1 4 1 11 1 3 1 1 1 0"/>
<circle r="54.27" pathLength="36" class="q1" stroke-dasharray="0 16 1 19"/>
<circle r="54.27" pathLength="36" class="q5" stroke-dasharray="0 13 1 1 1 14 1 1 1 3"/>
<circle r="54.27" pathLength="36" class="q6" stroke-dasharray="0 14 1 16 1 4"/>
<circle r="58.29" pathLength="36" class="q0" stroke-dasharray="1 14 1 20"/>
<circle r="58.29" pathLength="36" class="q1" stroke-dasharray="0 32 1 3"/>
<circle r="58.29" pathLength="36" class="q2" stroke-dasharray="0 13 1 22"/>
<circle r="58.29" pathLength="36" class="q4" stroke-dasharray="0 17 1 12 1 5"/>
<circle r="58.29" pathLength="36" class="q5" stroke-dasharray="0 14 1 1 1 19"/>
<circle r="58.29" pathLength="36" class="q6" stroke-dasharray="0 31 1 4"/>
<circle r="62.31" pathLength="36" class="q0" stroke-dasharray="1 14 1 14 1 5"/>
<circle r="62.31" pathLength="36" class="q1" stroke-dasharray="0 13 1 2 2 11 1 2 1 3"/>
<circle r="62.31" pathLength="36" class="q2" stroke-dasharray="0 12 1 18 1 4"/>
<circle r="62.31" pathLength="36" class="q4" stroke-dasharray="0 14 1 21"/>
<circle r="66.33" pathLength="36" class="q0" stroke-dasharray="0 29 2 1 1 3"/>
<circle r="66.33" pathLength="36" class="q1" stroke-dasharray="0 13 1 2 2 18"/>
<circle r="66.33" pathLength="36" class="q3" stroke-dasharray="0 31 1 4"/>
<circle r="66.33" pathLength="36" class="q4" stroke-dasharray="0 14 2 20"/>
<circle r="70.35" pathLength="36" class="q0" stroke-dasharray="0 31 1 4"/>
<circle r="70.35" pathLength="36" class="q1" stroke-dasharray="0 13 1 4 1 17"/>
<circle r="70.35" pathLength="36" class="q3" stroke-dasharray="0 14 1 21"/>
<circle r="70.35" pathLength="36" class="q5" stroke-dasharray="0 15 2 19"/>
<circle r="74.37" pathLength="36" class="q0" stroke-dasharray="0 17 1 14 1 3"/>
<circle r="74.37" pathLength="36" class="q1" stroke-dasharray="0 16 1 13 1 5"/>
<circle r="74.37" pathLength="36" class="q3" stroke-dasharray="0 15 1 20"/>
<circle r="74.37" pathLength="36" class="q4" stroke-dasharray="0 14 1 21"/>
<circle r="78.39" pathLength="36" class="q0" stroke-dasharray="0 13 1 3 1 18"/>
<circle r="78.39" pathLength="36" class="q2" stroke-dasharray="0 15 2 19"/>
<circle r="78.39" pathLength="36" class="q4" stroke-dasharray="0 14 1 21"/>
<circle r="82.41" pathLength="36" class="q0" stroke-dasharray="0 16 1 19"/>
<circle r="82.41" pathLength="36" class="q2" stroke-dasharray="0 13 2 21"/>
<circle r="82.41" pathLength="36" class="q5" stroke-dasharray="0 15 1 20"/>
<circle r="86.43" pathLength="36" class="q0" stroke-dasharray="0 16 1 19"/>
<circle r="86.43" pathLength="36" class="q1" stroke-dasharray="0 13 1 1 1 20"/>
<circle r="86.43" pathLength="36" class="q4" stroke-dasharray="0 14 1 21"/>
<circle r="90.45" pathLength="36" class="q0" stroke-dasharray="0 14 3 19"/>
<circle r="90.45" pathLength="36" class="q1" stroke-dasharray="0 13 1 22"/>
<circle r="94.47" pathLength="36" class="q0" stroke-dasharray="0 13 1 22"/>
<circle r="94.47" pathLength="36" class="q3" stroke-dasharray="0 14 1 1 1 19"/>
<circle r="94.47" pathLength="36" class="q4" stroke-dasharray="0 15 1 20"/>
<circle r="98.49" pathLength="36" class="q0" stroke-dasharray="0 14 1 1 1 1 1 17"/>
<circle r="98.49" pathLength="36" class="q1" stroke-dasharray="0 15 1 20"/>
<circle r="102.51" pathLength="36" class="q0" stroke-dasharray="0 17 1 18"/>
<circle r="102.51" pathLength="36" class="q1" stroke-dasharray="0 14 3 19"/>
<circle r="106.53" pathLength="36" class="q1" stroke-dasharray="0 13 1 22"/>
<circle r="110.55" pathLength="36" class="q0" stroke-dasharray="0 14 1 21"/>
</g>
<g fill="none" stroke="#a7a7a7" stroke-width="2.4">
<circle cx="1316.7" cy="972.55" r="20.1"/>
<circle cx="1316.7" cy="972.55" r="40.2"/>
<circle cx="1316.7" cy="972.55" r="60.3"/>
<circle cx="1316.7" cy="972.55" r="80.4"/>
<circle cx="1316.7" cy="972.55" r="100.5"/>
</g>
<g font-size="23.5" text-anchor="middle" fill="#000">
<text x="1316.7" y="854.77">N</text>
<text x="1442.88" y="980.95">E</text>
<text x="1316.7" y="1107.13">S</text>
<text x="1190.52" y="980.95">W</text>
<text x="1330.91" y="966.74">0</text>
<text x="1345.13" y="952.52">5</text>
<text x="1359.34" y="938.31">10</text>
<text x="1373.55" y="924.1">15</text>
<text x="1387.77" y="909.88">20</text>
</g>
</g>
<path fill="none" stroke="#555" stroke-width="1.5" d="M1176.5 1112.8L1176.5 832.3L1456.9 832.3"/>
<path fill="none" stroke="#333" stroke-width="2.3" stroke-linejoin="miter" d="M1176.5 1112.8L1456.9 1112.8L1456.9 831.8"/>
<rect x="1176.5" y="795.6" width="280.4" height="36.7" fill="#d9d9d9"/>
<path fill="none" stroke="#555" stroke-width="1.5" d="M1176.5 832.3L1176.5 795.6L1456.9 795.6"/>
<path fill="none" stroke="#333" stroke-width="2.3" stroke-linejoin="miter" d="M1176.5 832.3L1456.9 832.3L1456.9 795.1"/>
<text x="1316.7" y="821.15" font-size="17.8" fill="#1a1a1a" text-anchor="middle">Spring</text>
<g>
<g fill="none">
<path stroke="#e3e3e3" stroke-width="1.0" d="M935.4 1212.95L1113.6 1391.15M935.4 1391.15L1113.6 1212.95"/>
<path stroke="#d9d9d9" stroke-width="2.0" d="M898.5 1302.05L1150.5 1302.05M1024.5 1176.05L1024.5 1428.05"/>
<circle cx="1024.5" cy="1302.05" r="126" stroke="#e5e5e5" stroke-width="2.1"/>
</g>
<g transform="translate(1024.5 1302.05) rotate(-95)" fill="none" stroke-width="4.41" shape-rendering="crispEdges">
<circle r="22.08" pathLength="36" class="q0" stroke-dasharray="1 3 2 4 2 5 2 5 1 6 1 2 1 1"/>
<circle r="22.08" pathLength="36" class="q1" stroke-dasharray="0 2 1 3 2 1 1 17 1 5 1 1 1 0"/>
<circle r="22.08" pathLength="36" class="q2" stroke-dasharray="0 1 1 1 1 8 1 6 1 6 1 9"/>
<circle r="22.08" pathLength="36" class="q3" stroke-dasharray="0 16 1 8 1 10"/>
<circle r="22.08" pathLength="36" class="q4" stroke-dasharray="0 14 1 17 1 3"/>
<circle r="26.09" pathLength="36" class="q0" stroke-dasharray="1 2 1 3 1 2 2 7 1 5 1 3 1 6"/>
<circle r="26.09" pathLength="36" class="q1" stroke-dasharray="0 5 1 20 1 1 1 6 1 0"/>
<circle r="26.09" pathLength="36" class="q2" stroke-dasharray="0 20 1 15"/>
<circle r="26.09" pathLength="36" class="q3" stroke-dasharray="0 21 1 14"/>
<circle r="26.09" pathLength="36" class="q4" stroke-dasharray="0 16 1 13 1 5"/>
<circle r="26.09" pathLength="36" class="q5" stroke-dasharray="0 12 1 1 2 15 4 1"/>
<circle r="26.09" pathLength="36" class="q6" stroke-dasharray="0 13 1 22"/>
<circle r="30.11" pathLength="36" class="q0" stroke-dasharray="0 3 1 1 3 9 1 6 1 1 1 2 1 6"/>
<circle r="30.11" pathLength="36" class="q1" stroke-dasharray="0 2 1 6 1 1 1 9 1 6 1 6 1 0"/>
<circle r="30.11" pathLength="36" class="q2" stroke-dasharray="2 2 1 5 1 8 1 5 1 10"/>
<circle r="30.11" pathLength="36" class="q4" stroke-dasharray="0 16 1 19"/>
<circle r="30.11" pathLength="36" class="q5" stroke-dasharray="0 12 1 17 1 3 1 1"/>
<circle r="30.11" pathLength="36" class="q6" stroke-dasharray="0 13 2 16 1 1 1 2"/>
<circle r="30.11" pathLength="36" class="q7" stroke-dasharray="0 15 1 16 1 3"/>
<circle r="34.12" pathLength="36" class="q0" stroke-dasharray="1 1 1 26 1 5 1 0"/>
<circle r="34.12" pathLength="36" class="q1" stroke-dasharray="0 6 1 11 1 4 1 1 1 10"/>
<circle r="34.12" pathLength="36" class="q2" stroke-dasharray="0 3 2 2 1 3 1 7 1 2 1 13"/>
<circle r="34.12" pathLength="36" class="q3" stroke-dasharray="0 10 1 13 1 9 1 1"/>
<circle r="34.12" pathLength="36" class="q4" stroke-dasharray="0 17 1 18"/>
<circle r="34.12" pathLength="36" class="q5" stroke-dasharray="0 12 1 17 1 5"/>
<circle r="34.12" pathLength="36" class="q6" stroke-dasharray="0 13 1 2 1 19"/>
<circle r="34.12" pathLength="36" class="q7" stroke-dasharray="0 14 2 15 3 2"/>
<circle r="38.14" pathLength="36" class="q0" stroke-dasharray="0 3 1 2 1 10 2 7 1 2 1 4 2 0"/>
<circle r="38.14" pathLength="36" class="q1" stroke-dasharray="0 8 2 1 1 15 2 7"/>
<circle r="38.14" pathLength="36" class="q2" stroke-dasharray="1 11 1 23"/>
<circle r="38.14" pathLength="36" class="q4" stroke-dasharray="0 30 1 5"/>
<circle r="38.14" pathLength="36" class="q5" stroke-dasharray="0 13 1 2 1 19"/>
<circle r="38.14" pathLength="36" class="q7" stroke-dasharray="0 14 2 15 3 2"/>
<circle r="42.15" pathLength="36" class="q0" stroke-dasharray="1 4 1 3 2 6 2 15 1 1"/>
<circle r="42.15" pathLength="36" class="q1" stroke-dasharray="0 29 1 6"/>
<circle r="42.15" pathLength="36" class="q4" stroke-dasharray="0 12 1 23"/>
<circle r="42.15" pathLength="36" class="q5" stroke-dasharray="0 16 1 13 1 5"/>
<circle r="42.15" pathLength="36" class="q6" stroke-dasharray="0 33 1 2"/>
<circle r="42.15" pathLength="36" class="q7" stroke-dasharray="0 13 3 15 2 3"/>
<circle r="46.16" pathLength="36" class="q0" stroke-dasharray="0 29 1 4 1 1"/>
<circle r="46.16" pathLength="36" class="q1" stroke-dasharray="0 17 1 18"/>
<circle r="46.16" pathLength="36" class="q2" stroke-dasharray="0 12 1 3 1 19"/>
<circle r="46.16" pathLength="36" class="q5" stroke-dasharray="0 30 1 2 1 2"/>
<circle r="46.16" pathLength="36" class="q7" stroke-dasharray="0 13 3 15 2 3"/>
<circle r="50.18" pathLength="36" class="q0" stroke-dasharray="0 6 1 4 1 6 1 17"/>
<circle r="50.18" pathLength="36" class="q1" stroke-dasharray="0 17 1 18"/>
<circle r="50.18" pathLength="36" class="q2" stroke-dasharray="0 29 1 6"/>
<circle r="50.18" pathLength="36" class="q4" stroke-dasharray="0 12 1 3 1 16 1 2"/>
<circle r="50.18" pathLength="36" class="q5" stroke-dasharray="0 13 1 22"/>
<circle r="50.18" pathLength="36" class="q6" stroke-dasharray="0 30 2 4"/>
<circle r="50.18" pathLength="36" class="q7" stroke-dasharray="0 14 2 16 1 3"/>
<circle r="54.19" pathLength="36" class="q0" stroke-dasharray="0 11 1 17 1 6"/>
<circle r="54.19" pathLength="36" class="q3" stroke-dasharray="0 13 1 22"/>
<circle r="54.19" pathLength="36" class="q4" stroke-dasharray="0 12 1 20 1 2"/>
<circle r="54.19" pathLength="36" class="q5" stroke-dasharray="0 16 1 13 1 5"/>
<circle r="54.19" pathLength="36" class="q6" stroke-dasharray="0 15 1 15 1 4"/>
<circle r="54.19" pathLength="36" class="q7" stroke-dasharray="0 14 1 17 1 3"/>
<circle r="58.21" pathLength="36" class="q0" stroke-dasharray="0 2 2 12 1 19"/>
<circle r="58.21" pathLength="36" class="q1" stroke-dasharray="0 12 1 23"/>
<circle r="58.21" pathLength="36" class="q2" stroke-dasharray="0 29 1 6"/>
<circle r="58.21" pathLength="36" class="q5" stroke-dasharray="0 13 1 18 1 3"/>
<circle r="58.21" pathLength="36" class="q6" stroke-dasharray="0 14 2 14 2 4"/>
<circle r="62.22" pathLength="36" class="q0" stroke-dasharray="0 12 1 23"/>
<circle r="62.22" pathLength="36" class="q1" stroke-dasharray="0 29 1 1 1 4"/>
<circle r="62.22" pathLength="36" class="q2" stroke-dasharray="0 13 1 1 1 20"/>
<circle r="62.22" pathLength="36" class="q4" stroke-dasharray="0 32 1 3"/>
<circle r="62.22" pathLength="36" class="q5" stroke-dasharray="0 14 1 15 1 5"/>
<circle r="66.24" pathLength="36" class="q0" stroke-dasharray="0 12 1 23"/>
<circle r="66.24" pathLength="36" class="q2" stroke-dasharray="0 13 2 14 1 6"/>
<circle r="66.24" pathLength="36" class="q3" stroke-dasharray="0 15 1 14 1 1 1 3"/>
<circle r="66.24" pathLength="36" class="q4" stroke-dasharray="0 31 1 4"/>
<circle r="70.25" pathLength="36" class="q0" stroke-dasharray="0 15 1 20"/>
<circle r="70.25" pathLength="36" class="q1" stroke-dasharray="0 13 1 15 3 4"/>
<circle r="70.25" pathLength="36" class="q3" stroke-dasharray="0 14 1 21"/>
<circle r="74.27" pathLength="36" class="q0" stroke-dasharray="0 15 1 1 1 12 1 5"/>
<circle r="74.27" pathLength="36" class="q1" stroke-dasharray="0 14 1 1 1 14 2 3"/>
<circle r="78.28" pathLength="36" class="q0" stroke-dasharray="0 13 1 17 1 4"/>
<circle r="78.28" pathLength="36" class="q1" stroke-dasharray="0 14 2 14 1 5"/>
<circle r="78.28" pathLength="36" class="q3" stroke-dasharray="0 29 1 6"/>
<circle r="82.29" pathLength="36" class="q0" stroke-dasharray="0 15 1 16 1 3"/>
<circle r="82.29" pathLength="36" class="q1" stroke-dasharray="0 29 1 6"/>
<circle r="86.31" pathLength="36" class="q0" stroke-dasharray="0 14 1 15 3 3"/>
<circle r="90.32" pathLength="36" class="q0" stroke-dasharray="0 13 1 15 3 4"/>
<circle r="94.34" pathLength="36" class="q0" stroke-dasharray="0 29 1 6"/>
<circle r="94.34" pathLength="36" class="q2" stroke-dasharray="0 14 1 21"/>
<circle r="98.35" pathLength="36" class="q0" stroke-dasharray="0 14 1 15 1 5"/>
</g>
<g fill="none" stroke="#a7a7a7" stroke-width="2.4">
<circle cx="1024.5" cy="1302.05" r="20.07"/>
<circle cx="1024.5" cy="1302.05" r="40.14"/>
<circle cx="1024.5" cy="1302.05" r="60.22"/>
<circle cx="1024.5" cy="1302.05" r="80.29"/>
<circle cx="1024.5" cy="1302.05" r="100.36"/>
</g>
<g font-size="23.5" text-anchor="middle" fill="#000">
<text x="1024.5" y="1184.45">N</text>
<text x="1150.5" y="1310.45">E</text>
<text x="1024.5" y="1436.45">S</text>
<text x="898.5" y="1310.45">W</text>
<text x="1038.69" y="1296.26">0</text>
<text x="1052.89" y="1282.06">5</text>
<text x="1067.08" y="1267.87">10</text>
<text x="1081.27" y="1253.68">15</text>
<text x="1095.46" y="1239.49">20</text>
</g>
</g>
<path fill="none" stroke="#555" stroke-width="1.5" d="M884.5 1442.4L884.5 1161.7L1164.5 1161.7"/>
<path fill="none" stroke="#333" stroke-width="2.3" stroke-linejoin="miter" d="M884.5 1442.4L1164.5 1442.4L1164.5 1161.2"/>
<rect x="884.5" y="1125.2" width="280" height="36.5" fill="#d9d9d9"/>
<path fill="none" stroke="#555" stroke-width="1.5" d="M884.5 1161.7L884.5 1125.2L1164.5 1125.2"/>
<path fill="none" stroke="#333" stroke-width="2.3" stroke-linejoin="miter" d="M884.5 1161.7L1164.5 1161.7L1164.5 1124.7"/>
<text x="1024.5" y="1150.65" font-size="17.8" fill="#1a1a1a" text-anchor="middle">Summer</text>
<g>
<g fill="none">
<path stroke="#e3e3e3" stroke-width="1.0" d="M1227.48 1212.83L1405.92 1391.27M1227.48 1391.27L1405.92 1212.83"/>
<path stroke="#d9d9d9" stroke-width="2.0" d="M1190.52 1302.05L1442.88 1302.05M1316.7 1175.87L1316.7 1428.23"/>
<circle cx="1316.7" cy="1302.05" r="126.18" stroke="#e5e5e5" stroke-width="2.1"/>
</g>
<g transform="translate(1316.7 1302.05) rotate(-95)" fill="none" stroke-width="4.42" shape-rendering="crispEdges">
<circle r="22.11" pathLength="36" class="q0" stroke-dasharray="0 2 1 5 1 13 1 6 1 6"/>
<circle r="22.11" pathLength="36" class="q1" stroke-dasharray="0 3 1 8 1 4 1 1 1 1 1 4 1 9"/>
<circle r="22.11" pathLength="36" class="q2" stroke-dasharray="0 5 1 5 1 3 1 11 2 6 1 0"/>
<circle r="22.11" pathLength="36" class="q3" stroke-dasharray="0 1 1 2 1 15 1 15"/>
<circle r="22.11" pathLength="36" class="q4" stroke-dasharray="0 13 2 1 1 13 1 2 1 2"/>
<circle r="22.11" pathLength="36" class="q5" stroke-dasharray="0 31 2 3"/>
<circle r="26.13" pathLength="36" class="q0" stroke-dasharray="0 3 1 5 2 8 1 2 2 12"/>
<circle r="26.13" pathLength="36" class="q1" stroke-dasharray="1 6 2 2 2 8 1 3 1 10"/>
<circle r="26.13" pathLength="36" class="q2" stroke-dasharray="0 1 1 4 1 13 1 3 1 1 2 8"/>
<circle r="26.13" pathLength="36" class="q3" stroke-dasharray="0 5 1 22 1 7"/>
<circle r="26.13" pathLength="36" class="q4" stroke-dasharray="0 13 1 3 1 11 1 6"/>
<circle r="26.13" pathLength="36" class="q5" stroke-dasharray="0 14 1 15 1 3 1 1"/>
<circle r="26.13" pathLength="36" class="q6" stroke-dasharray="0 15 2 14 3 2"/>
<circle r="30.15" pathLength="36" class="q0" stroke-dasharray="0 1 2 2 1 6 1 6 1 3 1 2 4 5 1 0"/>
<circle r="30.15" pathLength="36" class="q1" stroke-dasharray="0 7 3 8 1 1 2 2 1 11"/>
<circle r="30.15" pathLength="36" class="q2" stroke-dasharray="1 2 1 2 1 3 1 14 1 10"/>
<circle r="30.15" pathLength="36" class="q4" stroke-dasharray="0 17 1 12 1 5"/>
<circle r="30.15" pathLength="36" class="q5" stroke-dasharray="0 16 1 17 1 1"/>
<circle r="30.15" pathLength="36" class="q6" stroke-dasharray="0 13 3 15 1 4"/>
<circle r="30.15" pathLength="36" class="q7" stroke-dasharray="0 32 2 2"/>
<circle r="34.17" pathLength="36" class="q0" stroke-dasharray="1 1 1 2 2 2 1 1 1 13 1 2 1 7"/>
<circle r="34.17" pathLength="36" class="q1" stroke-dasharray="0 7 1 2 1 9 1 3 1 1 1 9"/>
<circle r="34.17" pathLength="36" class="q2" stroke-dasharray="0 1 1 2 1 13 2 2 2 12"/>
<circle r="34.17" pathLength="36" class="q3" stroke-dasharray="0 3 1 32"/>
<circle r="34.17" pathLength="36" class="q4" stroke-dasharray="0 12 3 2 1 11 1 4 1 1"/>
<circle r="34.17" pathLength="36" class="q5" stroke-dasharray="0 30 1 5"/>
<circle r="34.17" pathLength="36" class="q6" stroke-dasharray="0 15 2 19"/>
<circle r="34.17" pathLength="36" class="q7" stroke-dasharray="0 31 3 2"/>
<circle r="38.19" pathLength="36" class="q0" stroke-dasharray="1 1 1 5 1 2 1 12 1 11"/>
<circle r="38.19" pathLength="36" class="q1" stroke-dasharray="0 3 2 1 1 19 1 9"/>
<circle r="38.19" pathLength="36" class="q2" stroke-dasharray="0 5 1 13 1 9 1 5 1 0"/>
<circle r="38.19" pathLength="36" class="q3" stroke-dasharray="0 1 1 25 2 7"/>
<circle r="38.19" pathLength="36" class="q4" stroke-dasharray="0 18 1 17"/>
<circle r="38.19" pathLength="36" class="q5" stroke-dasharray="0 12 2 3 1 16 1 1"/>
<circle r="38.19" pathLength="36" class="q6" stroke-dasharray="0 14 1 1 1 13 1 5"/>
<circle r="38.19" pathLength="36" class="q7" stroke-dasharray="0 15 1 15 3 2"/>
<circle r="42.21" pathLength="36" class="q0" stroke-dasharray="0 8 1 2 1 12 1 3 1 7"/>
<circle r="42.21" pathLength="36" class="q1" stroke-dasharray="1 9 1 1 1 5 1 17"/>
<circle r="42.21" pathLength="36" class="q3" stroke-dasharray="0 35 1 0"/>
<circle r="42.21" pathLength="36" class="q4" stroke-dasharray="0 29 1 6"/>
<circle r="42.21" pathLength="36" class="q5" stroke-dasharray="0 13 1 3 1 16 1 1"/>
<circle r="42.21" pathLength="36" class="q6" stroke-dasharray="0 16 1 13 1 5"/>
<circle r="42.21" pathLength="36" class="q7" stroke-dasharray="0 14 2 15 3 2"/>
<circle r="46.23" pathLength="36" class="q0" stroke-dasharray="0 2 1 5 1 20 1 6"/>
<circle r="46.23" pathLength="36" class="q1" stroke-dasharray="0 1 1 16 1 17"/>
<circle r="46.23" pathLength="36" class="q2" stroke-dasharray="0 12 1 22 1 0"/>
<circle r="46.23" pathLength="36" class="q3" stroke-dasharray="0 11 1 24"/>
<circle r="46.23" pathLength="36" class="q4" stroke-dasharray="0 17 1 18"/>
<circle r="46.23" pathLength="36" class="q5" stroke-dasharray="0 13 1 20 1 1"/>
<circle r="46.23" pathLength="36" class="q6" stroke-dasharray="0 16 1 13 1 5"/>
<circle r="46.23" pathLength="36" class="q7" stroke-dasharray="0 14 2 15 3 2"/>
<circle r="50.25" pathLength="36" class="q0" stroke-dasharray="0 1 1 15 1 9 1 7 1 0"/>
<circle r="50.25" pathLength="36" class="q1" stroke-dasharray="1 35"/>
<circle r="50.25" pathLength="36" class="q3" stroke-dasharray="0 11 2 23"/>
<circle r="50.25" pathLength="36" class="q4" stroke-dasharray="0 13 1 20 1 1"/>
<circle r="50.25" pathLength="36" class="q6" stroke-dasharray="0 16 1 19"/>
<circle r="50.25" pathLength="36" class="q7" stroke-dasharray="0 14 2 14 4 2"/>
<circle r="54.27" pathLength="36" class="q0" stroke-dasharray="1 10 1 15 1 7 1 0"/>
<circle r="54.27" pathLength="36" class="q3" stroke-dasharray="0 12 1 23"/>
<circle r="54.27" pathLength="36" class="q4" stroke-dasharray="0 13 1 2 1 17 1 1"/>
<circle r="54.27" pathLength="36" class="q5" stroke-dasharray="0 29 1 6"/>
<circle r="54.27" pathLength="36" class="q7" stroke-dasharray="0 14 2 14 4 2"/>
<circle r="58.29" pathLength="36" class="q1" stroke-dasharray="0 13 1 21 1 0"/>
<circle r="58.29" pathLength="36" class="q3" stroke-dasharray="0 29 1 4 1 1"/>
<circle r="58.29" pathLength="36" class="q6" stroke-dasharray="0 14 2 14 1 2 1 2"/>
<circle r="58.29" pathLength="36" class="q7" stroke-dasharray="0 31 2 3"/>
<circle r="62.31" pathLength="36" class="q0" stroke-dasharray="0 1 1 10 1 22 1 0"/>
<circle r="62.31" pathLength="36" class="q1" stroke-dasharray="0 16 1 19"/>
<circle r="62.31" pathLength="36" class="q2" stroke-dasharray="0 13 1 22"/>
<circle r="62.31" pathLength="36" class="q3" stroke-dasharray="0 34 1 1"/>
<circle r="62.31" pathLength="36" class="q4" stroke-dasharray="0 29 1 6"/>
<circle r="62.31" pathLength="36" class="q5" stroke-dasharray="0 14 2 14 1 2 1 2"/>
<circle r="62.31" pathLength="36" class="q6" stroke-dasharray="0 31 2 3"/>
<circle r="66.33" pathLength="36" class="q0" stroke-dasharray="0 12 1 3 1 19"/>
<circle r="66.33" pathLength="36" class="q1" stroke-dasharray="0 29 1 4 1 1"/>
<circle r="66.33" pathLength="36" class="q2" stroke-dasharray="0 13 1 22"/>
<circle r="66.33" pathLength="36" class="q3" stroke-dasharray="0 33 1 2"/>
<circle r="66.33" pathLength="36" class="q4" stroke-dasharray="0 15 1 16 1 3"/>
<circle r="66.33" pathLength="36" class="q5" stroke-dasharray="0 14 1 21"/>
<circle r="66.33" pathLength="36" class="q6" stroke-dasharray="0 30 2 4"/>
<circle r="70.35" pathLength="36" class="q0" stroke-dasharray="0 12 1 14 2 7"/>
<circle r="70.35" pathLength="36" class="q1" stroke-dasharray="0 13 1 20 1 1"/>
<circle r="70.35" pathLength="36" class="q2" stroke-dasharray="0 29 1 2 1 3"/>
<circle r="70.35" pathLength="36" class="q3" stroke-dasharray="0 30 1 2 1 2"/>
<circle r="70.35" pathLength="36" class="q4" stroke-dasharray="0 15 1 20"/>
<circle r="70.35" pathLength="36" class="q5" stroke-dasharray="0 14 1 16 1 4"/>
<circle r="74.37" pathLength="36" class="q0" stroke-dasharray="0 12 1 4 1 14 1 3"/>
<circle r="74.37" pathLength="36" class="q1" stroke-dasharray="0 13 1 2 1 19"/>
<circle r="74.37" pathLength="36" class="q2" stroke-dasharray="0 33 1 2"/>
<circle r="74.37" pathLength="36" class="q3" stroke-dasharray="0 15 1 13 2 5"/>
<circle r="74.37" pathLength="36" class="q4" stroke-dasharray="0 31 1 4"/>
<circle r="74.37" pathLength="36" class="q5" stroke-dasharray="0 14 1 21"/>
<circle r="78.39" pathLength="36" class="q0" stroke-dasharray="0 17 1 18"/>
<circle r="78.39" pathLength="36" class="q2" stroke-dasharray="0 13 1 2 1 15 2 2"/>
<circle r="78.39" pathLength="36" class="q3" stroke-dasharray="0 15 1 14 2 4"/>
<circle r="78.39" pathLength="36" class="q5" stroke-dasharray="0 14 1 21"/>
<circle r="82.41" pathLength="36" class="q0" stroke-dasharray="0 30 1 1 2 1 1 0"/>
<circle r="82.41" pathLength="36" class="q1" stroke-dasharray="0 31 1 4"/>
<circle r="82.41" pathLength="36" class="q2" stroke-dasharray="0 15 1 20"/>
<circle r="82.41" pathLength="36" class="q3" stroke-dasharray="0 13 1 22"/>
<circle r="82.41" pathLength="36" class="q4" stroke-dasharray="0 14 1 21"/>
<circle r="86.43" pathLength="36" class="q0" stroke-dasharray="0 27 1 3 3 2"/>
<circle r="86.43" pathLength="36" class="q1" stroke-dasharray="0 16 1 19"/>
<circle r="86.43" pathLength="36" class="q2" stroke-dasharray="0 15 1 18 1 1"/>
<circle r="86.43" pathLength="36" class="q3" stroke-dasharray="0 13 1 22"/>
<circle r="86.43" pathLength="36" class="q4" stroke-dasharray="0 14 1 21"/>
<circle r="90.45" pathLength="36" class="q0" stroke-dasharray="0 12 1 4 1 18"/>
<circle r="90.45" pathLength="36" class="q1" stroke-dasharray="0 15 1 18 1 1"/>
<circle r="90.45" pathLength="36" class="q2" stroke-dasharray="0 14 1 21"/>
<circle r="94.47" pathLength="36" class="q0" stroke-dasharray="0 13 1 1 1 1 1 18"/>
<circle r="98.49" pathLength="36" class="q0" stroke-dasharray="0 15 1 16 1 3"/>
<circle r="102.51" pathLength="36" class="q0" stroke-dasharray="0 16 1 19"/>
<circle r="106.53" pathLength="36" class="q0" stroke-dasharray="0 19 1 16"/>
<circle r="106.53" pathLength="36" class="q1" stroke-dasharray="0 14 1 21"/>
</g>
<g fill="none" stroke="#a7a7a7" stroke-width="2.4">
<circle cx="1316.7" cy="1302.05" r="20.1"/>
<circle cx="1316.7" cy="1302.05" r="40.2"/>
<circle cx="1316.7" cy="1302.05" r="60.3"/>
<circle cx="1316.7" cy="1302.05" r="80.4"/>
<circle cx="1316.7" cy="1302.05" r="100.5"/>
</g>
<g font-size="23.5" text-anchor="middle" fill="#000">
<text x="1316.7" y="1184.27">N</text>
<text x="1442.88" y="1310.45">E</text>
<text x="1316.7" y="1436.63">S</text>
<text x="1190.52" y="1310.45">W</text>
<text x="1330.91" y="1296.24">0</text>
<text x="1345.13" y="1282.02">5</text>
<text x="1359.34" y="1267.81">10</text>
<text x="1373.55" y="1253.6">15</text>
<text x="1387.77" y="1239.38">20</text>
</g>
</g>
<path fill="none" stroke="#555" stroke-width="1.5" d="M1176.5 1442.4L1176.5 1161.7L1456.9 1161.7"/>
<path fill="none" stroke="#333" stroke-width="2.3" stroke-linejoin="miter" d="M1176.5 1442.4L1456.9 1442.4L1456.9 1161.2"/>
<rect x="1176.5" y="1125.2" width="280.4" height="36.5" fill="#d9d9d9"/>
<path fill="none" stroke="#555" stroke-width="1.5" d="M1176.5 1161.7L1176.5 1125.2L1456.9 1125.2"/>
<path fill="none" stroke="#333" stroke-width="2.3" stroke-linejoin="miter" d="M1176.5 1161.7L1456.9 1161.7L1456.9 1124.7"/>
<text x="1316.7" y="1150.65" font-size="17.8" fill="#1a1a1a" text-anchor="middle">Autumn</text>
</svg></body></html>
